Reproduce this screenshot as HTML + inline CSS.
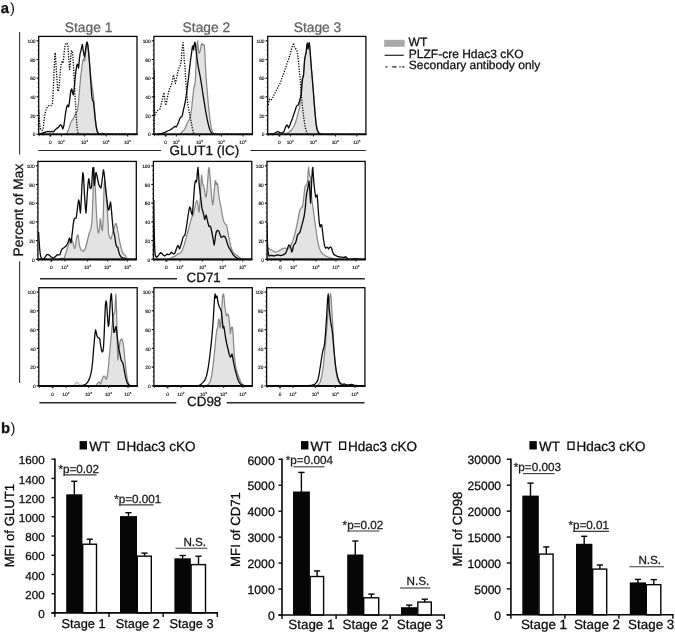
<!DOCTYPE html>
<html>
<head>
<meta charset="utf-8">
<title>Figure</title>
<style>
html, body { margin: 0; padding: 0; background: #ffffff; }
body { width: 675px; height: 634px; overflow: hidden; font-family: "Liberation Sans", sans-serif; }
svg { display: block; font-family: "Liberation Sans", sans-serif; will-change: transform; text-rendering: geometricPrecision; filter: blur(0.3px); }
</style>
</head>
<body>
<svg width="675" height="634" viewBox="0 0 675 634">
<rect x="0" y="0" width="675" height="634" fill="#ffffff"/>
<g id="hist">
<clipPath id="c0"><rect x="38.7" y="35.4" width="98.3" height="99.4"/></clipPath>
<g clip-path="url(#c0)">
<path d="M65.6 134.4 L67.2 132.6 L68.6 129.4 L70.0 125.0 L71.2 121.4 L72.4 119.8 L73.6 118.2 L74.8 115.4 L76.0 113.0 L77.4 111.0 L78.4 103.4 L79.4 91.0 L80.6 77.4 L81.6 69.0 L82.8 60.6 L83.8 58.6 L84.6 61.0 L85.6 53.0 L86.4 46.0 L87.2 42.6 L88.0 45.0 L89.0 55.0 L90.0 68.0 L91.2 80.0 L92.4 88.6 L93.4 95.0 L94.4 107.0 L95.6 120.6 L97.0 130.6 L98.6 133.6 L100.6 133.8 L102.4 133.0 L104.0 133.8 L105.6 134.4 Z" fill="#e3e3e3" stroke="none"/>
<path d="M65.6 134.4 L67.2 132.6 L68.6 129.4 L70.0 125.0 L71.2 121.4 L72.4 119.8 L73.6 118.2 L74.8 115.4 L76.0 113.0 L77.4 111.0 L78.4 103.4 L79.4 91.0 L80.6 77.4 L81.6 69.0 L82.8 60.6 L83.8 58.6 L84.6 61.0 L85.6 53.0 L86.4 46.0 L87.2 42.6 L88.0 45.0 L89.0 55.0 L90.0 68.0 L91.2 80.0 L92.4 88.6 L93.4 95.0 L94.4 107.0 L95.6 120.6 L97.0 130.6 L98.6 133.6 L100.6 133.8 L102.4 133.0 L104.0 133.8 L105.6 134.4" fill="none" stroke="#888888" stroke-width="1.25" stroke-linejoin="round"/>
<path d="M38.6 110.0 L39.0 113.0 L39.4 119.0 L39.8 125.0 L40.6 129.0 L42.0 130.4 L43.2 129.0 L43.8 123.0 L44.6 116.0 L45.6 111.0 L46.8 108.0 L48.2 106.0 L49.8 105.2 L51.4 105.6 L52.4 104.2 L53.0 95.0 L53.6 83.0 L54.2 69.0 L54.8 57.0 L55.2 52.6 L55.8 61.0 L56.4 71.0 L57.0 80.0 L57.6 89.0 L58.2 91.4 L58.8 89.0 L59.4 83.0 L60.0 75.0 L60.6 68.0 L61.2 64.0 L62.0 62.0 L63.0 63.0 L63.6 59.0 L64.2 52.0 L65.0 45.6 L66.0 43.0 L67.0 43.4 L67.8 46.0 L68.4 53.0 L69.0 62.0 L69.6 69.4 L70.2 65.0 L70.8 57.0 L71.4 51.0 L72.2 50.6 L72.8 55.0 L73.4 64.0 L74.0 75.0 L74.6 87.0 L75.2 99.0 L75.8 109.0 L76.4 119.0 L77.0 127.0 L77.8 132.0 L78.8 134.4" fill="none" stroke="#0a0a0a" stroke-width="1.35" stroke-dasharray="1.25 1.35" stroke-linejoin="round"/>
<path d="M38.6 134.4 L41.0 133.6 L43.6 132.6 L46.0 132.0 L48.0 131.4 L50.0 131.8 L52.0 131.4 L53.6 131.8 L55.2 129.8 L56.8 128.4 L58.4 127.4 L59.6 125.6 L60.8 124.8 L61.8 126.0 L62.8 129.0 L63.8 126.0 L64.8 119.0 L65.8 111.4 L66.8 106.6 L67.6 105.0 L68.6 107.0 L69.4 102.6 L70.2 95.4 L71.0 90.0 L71.8 89.0 L72.6 93.0 L73.4 95.0 L74.2 88.6 L75.2 77.4 L76.2 69.0 L77.2 64.2 L78.0 65.0 L78.6 68.0 L79.4 59.0 L80.2 53.0 L81.0 50.6 L81.8 46.0 L82.4 44.6 L83.2 50.6 L84.0 55.0 L84.6 57.0 L85.4 50.6 L86.2 45.0 L87.0 41.8 L87.8 45.0 L88.6 53.0 L89.4 62.0 L90.2 73.0 L91.0 85.0 L91.8 96.0 L92.6 100.6 L93.4 101.4 L94.2 109.0 L95.2 119.0 L96.2 127.0 L97.2 131.4 L98.4 133.6 L100.0 134.4 L137.0 134.4" fill="none" stroke="#0a0a0a" stroke-width="1.3" stroke-linejoin="round"/>
</g>
<rect x="38.7" y="36.4" width="98.3" height="97.8" fill="none" stroke="#0a0a0a" stroke-width="1.3"/>
<line x1="38.1" y1="134.40" x2="137.6" y2="134.40" stroke="#0a0a0a" stroke-width="1.9"/>
<line x1="36.6" y1="40.8" x2="38.7" y2="40.8" stroke="#111" stroke-width="1.2"/>
<text font-family="Liberation Sans, sans-serif" x="35.5" y="43.0" font-size="4.8" text-anchor="end" fill="#000" stroke="#000" stroke-width="0.1">100</text>
<line x1="36.6" y1="59.5" x2="38.7" y2="59.5" stroke="#111" stroke-width="1.2"/>
<text font-family="Liberation Sans, sans-serif" x="35.5" y="61.7" font-size="4.8" text-anchor="end" fill="#000" stroke="#000" stroke-width="0.1">80</text>
<line x1="36.6" y1="78.2" x2="38.7" y2="78.2" stroke="#111" stroke-width="1.2"/>
<text font-family="Liberation Sans, sans-serif" x="35.5" y="80.4" font-size="4.8" text-anchor="end" fill="#000" stroke="#000" stroke-width="0.1">60</text>
<line x1="36.6" y1="96.8" x2="38.7" y2="96.8" stroke="#111" stroke-width="1.2"/>
<text font-family="Liberation Sans, sans-serif" x="35.5" y="99.0" font-size="4.8" text-anchor="end" fill="#000" stroke="#000" stroke-width="0.1">40</text>
<line x1="36.6" y1="115.5" x2="38.7" y2="115.5" stroke="#111" stroke-width="1.2"/>
<text font-family="Liberation Sans, sans-serif" x="35.5" y="117.7" font-size="4.8" text-anchor="end" fill="#000" stroke="#000" stroke-width="0.1">20</text>
<line x1="36.6" y1="134.2" x2="38.7" y2="134.2" stroke="#111" stroke-width="1.2"/>
<text font-family="Liberation Sans, sans-serif" x="35.5" y="136.4" font-size="4.8" text-anchor="end" fill="#000" stroke="#000" stroke-width="0.1">0</text>
<line x1="37.4" y1="45.47" x2="38.7" y2="45.47" stroke="#222" stroke-width="0.6"/>
<line x1="37.4" y1="50.14" x2="38.7" y2="50.14" stroke="#222" stroke-width="0.6"/>
<line x1="37.4" y1="54.81" x2="38.7" y2="54.81" stroke="#222" stroke-width="0.6"/>
<line x1="37.4" y1="64.15" x2="38.7" y2="64.15" stroke="#222" stroke-width="0.6"/>
<line x1="37.4" y1="68.82" x2="38.7" y2="68.82" stroke="#222" stroke-width="0.6"/>
<line x1="37.4" y1="73.49" x2="38.7" y2="73.49" stroke="#222" stroke-width="0.6"/>
<line x1="37.4" y1="82.83" x2="38.7" y2="82.83" stroke="#222" stroke-width="0.6"/>
<line x1="37.4" y1="87.50" x2="38.7" y2="87.50" stroke="#222" stroke-width="0.6"/>
<line x1="37.4" y1="92.17" x2="38.7" y2="92.17" stroke="#222" stroke-width="0.6"/>
<line x1="37.4" y1="101.51" x2="38.7" y2="101.51" stroke="#222" stroke-width="0.6"/>
<line x1="37.4" y1="106.18" x2="38.7" y2="106.18" stroke="#222" stroke-width="0.6"/>
<line x1="37.4" y1="110.85" x2="38.7" y2="110.85" stroke="#222" stroke-width="0.6"/>
<line x1="37.4" y1="120.19" x2="38.7" y2="120.19" stroke="#222" stroke-width="0.6"/>
<line x1="37.4" y1="124.86" x2="38.7" y2="124.86" stroke="#222" stroke-width="0.6"/>
<line x1="37.4" y1="129.53" x2="38.7" y2="129.53" stroke="#222" stroke-width="0.6"/>
<line x1="50.4" y1="134.2" x2="50.4" y2="136.6" stroke="#222" stroke-width="1.9"/>
<line x1="61.4" y1="134.2" x2="61.4" y2="136.4" stroke="#222" stroke-width="1.1"/>
<line x1="84.6" y1="134.2" x2="84.6" y2="136.4" stroke="#222" stroke-width="1.1"/>
<line x1="106.2" y1="134.2" x2="106.2" y2="136.4" stroke="#222" stroke-width="1.1"/>
<line x1="127.6" y1="134.2" x2="127.6" y2="136.4" stroke="#222" stroke-width="1.1"/>
<line x1="68.4" y1="134.2" x2="68.4" y2="135.4" stroke="#222" stroke-width="0.5"/>
<line x1="72.5" y1="134.2" x2="72.5" y2="135.4" stroke="#222" stroke-width="0.5"/>
<line x1="75.4" y1="134.2" x2="75.4" y2="135.4" stroke="#222" stroke-width="0.5"/>
<line x1="77.6" y1="134.2" x2="77.6" y2="135.4" stroke="#222" stroke-width="0.5"/>
<line x1="79.5" y1="134.2" x2="79.5" y2="135.4" stroke="#222" stroke-width="0.5"/>
<line x1="81.0" y1="134.2" x2="81.0" y2="135.4" stroke="#222" stroke-width="0.5"/>
<line x1="82.4" y1="134.2" x2="82.4" y2="135.4" stroke="#222" stroke-width="0.5"/>
<line x1="83.5" y1="134.2" x2="83.5" y2="135.4" stroke="#222" stroke-width="0.5"/>
<line x1="91.1" y1="134.2" x2="91.1" y2="135.4" stroke="#222" stroke-width="0.5"/>
<line x1="94.9" y1="134.2" x2="94.9" y2="135.4" stroke="#222" stroke-width="0.5"/>
<line x1="97.6" y1="134.2" x2="97.6" y2="135.4" stroke="#222" stroke-width="0.5"/>
<line x1="99.7" y1="134.2" x2="99.7" y2="135.4" stroke="#222" stroke-width="0.5"/>
<line x1="101.4" y1="134.2" x2="101.4" y2="135.4" stroke="#222" stroke-width="0.5"/>
<line x1="102.9" y1="134.2" x2="102.9" y2="135.4" stroke="#222" stroke-width="0.5"/>
<line x1="104.1" y1="134.2" x2="104.1" y2="135.4" stroke="#222" stroke-width="0.5"/>
<line x1="105.2" y1="134.2" x2="105.2" y2="135.4" stroke="#222" stroke-width="0.5"/>
<line x1="112.6" y1="134.2" x2="112.6" y2="135.4" stroke="#222" stroke-width="0.5"/>
<line x1="116.4" y1="134.2" x2="116.4" y2="135.4" stroke="#222" stroke-width="0.5"/>
<line x1="119.1" y1="134.2" x2="119.1" y2="135.4" stroke="#222" stroke-width="0.5"/>
<line x1="121.2" y1="134.2" x2="121.2" y2="135.4" stroke="#222" stroke-width="0.5"/>
<line x1="122.9" y1="134.2" x2="122.9" y2="135.4" stroke="#222" stroke-width="0.5"/>
<line x1="124.3" y1="134.2" x2="124.3" y2="135.4" stroke="#222" stroke-width="0.5"/>
<line x1="125.5" y1="134.2" x2="125.5" y2="135.4" stroke="#222" stroke-width="0.5"/>
<line x1="126.6" y1="134.2" x2="126.6" y2="135.4" stroke="#222" stroke-width="0.5"/>
<line x1="134.0" y1="134.2" x2="134.0" y2="135.4" stroke="#222" stroke-width="0.5"/>
<line x1="39.3" y1="134.2" x2="39.3" y2="136.2" stroke="#222" stroke-width="0.9"/>
<line x1="43.3" y1="134.2" x2="43.3" y2="135.8" stroke="#222" stroke-width="0.7"/>
<line x1="56.2" y1="134.2" x2="56.2" y2="135.6" stroke="#222" stroke-width="0.6"/>
<text font-family="Liberation Sans, sans-serif" x="50.4" y="144.0" font-size="4.8" text-anchor="middle" fill="#000" stroke="#000" stroke-width="0.1">0</text>
<text font-family="Liberation Sans, sans-serif" x="61.2" y="144.0" font-size="4.8" text-anchor="middle" fill="#000" stroke="#000" stroke-width="0.1">10<tspan font-size="3.0" dy="-1.7">2</tspan></text>
<text font-family="Liberation Sans, sans-serif" x="84.4" y="144.0" font-size="4.8" text-anchor="middle" fill="#000" stroke="#000" stroke-width="0.1">10<tspan font-size="3.0" dy="-1.7">3</tspan></text>
<text font-family="Liberation Sans, sans-serif" x="106.0" y="144.0" font-size="4.8" text-anchor="middle" fill="#000" stroke="#000" stroke-width="0.1">10<tspan font-size="3.0" dy="-1.7">4</tspan></text>
<text font-family="Liberation Sans, sans-serif" x="127.4" y="144.0" font-size="4.8" text-anchor="middle" fill="#000" stroke="#000" stroke-width="0.1">10<tspan font-size="3.0" dy="-1.7">5</tspan></text>
<clipPath id="c1"><rect x="153.9" y="35.4" width="98.5" height="99.4"/></clipPath>
<g clip-path="url(#c1)">
<path d="M179.0 134.4 L181.0 133.0 L183.0 131.0 L184.6 129.4 L186.0 126.0 L187.2 123.0 L188.4 121.0 L189.6 119.0 L190.8 114.0 L191.8 107.0 L192.8 97.0 L193.8 88.0 L194.6 85.0 L195.2 83.0 L195.8 70.0 L196.4 57.0 L197.0 46.0 L197.6 41.0 L198.2 47.0 L198.8 53.4 L199.6 52.6 L200.4 50.0 L201.2 45.0 L201.8 43.4 L202.6 45.0 L203.4 44.6 L204.2 45.0 L204.8 51.0 L205.4 65.0 L206.2 79.0 L207.2 91.0 L208.4 105.0 L209.8 118.0 L211.2 127.4 L212.6 132.4 L214.4 134.0 L216.4 134.4 Z" fill="#e3e3e3" stroke="none"/>
<path d="M179.0 134.4 L181.0 133.0 L183.0 131.0 L184.6 129.4 L186.0 126.0 L187.2 123.0 L188.4 121.0 L189.6 119.0 L190.8 114.0 L191.8 107.0 L192.8 97.0 L193.8 88.0 L194.6 85.0 L195.2 83.0 L195.8 70.0 L196.4 57.0 L197.0 46.0 L197.6 41.0 L198.2 47.0 L198.8 53.4 L199.6 52.6 L200.4 50.0 L201.2 45.0 L201.8 43.4 L202.6 45.0 L203.4 44.6 L204.2 45.0 L204.8 51.0 L205.4 65.0 L206.2 79.0 L207.2 91.0 L208.4 105.0 L209.8 118.0 L211.2 127.4 L212.6 132.4 L214.4 134.0 L216.4 134.4" fill="none" stroke="#888888" stroke-width="1.25" stroke-linejoin="round"/>
<path d="M154.2 134.4 L154.2 71.0 L154.4 116.0 L155.6 113.0 L157.0 111.0 L158.6 109.8 L160.0 109.0 L161.0 105.0 L162.0 100.6 L163.0 96.0 L164.0 92.6 L164.8 99.0 L165.6 105.4 L166.6 102.0 L167.6 96.6 L168.6 92.0 L169.6 88.6 L170.8 86.0 L172.0 83.0 L172.8 78.0 L173.6 75.0 L174.4 79.0 L175.4 83.4 L176.4 79.0 L177.4 74.0 L178.4 69.4 L179.4 67.0 L180.4 65.4 L181.2 61.0 L181.8 53.0 L182.4 46.6 L183.0 42.6 L183.6 49.0 L184.2 60.0 L185.0 67.4 L185.8 81.0 L186.8 93.0 L187.8 104.0 L189.0 111.0 L190.2 116.6 L191.4 123.0 L192.6 129.4 L194.0 134.4" fill="none" stroke="#0a0a0a" stroke-width="1.35" stroke-dasharray="1.25 1.35" stroke-linejoin="round"/>
<path d="M154.0 134.4 L158.0 134.2 L162.0 133.4 L165.0 132.4 L167.6 131.0 L170.0 130.0 L172.0 128.6 L173.6 127.4 L175.0 126.2 L176.2 127.0 L177.4 125.0 L178.6 122.0 L179.8 118.6 L181.0 117.0 L182.0 116.6 L183.0 112.0 L184.2 106.6 L185.4 101.0 L186.6 93.0 L187.6 85.0 L188.6 77.4 L189.6 68.0 L190.6 60.0 L191.6 52.6 L192.4 46.6 L193.0 45.8 L193.6 50.0 L194.2 45.0 L194.8 42.2 L195.4 44.0 L196.0 50.0 L196.8 56.6 L197.8 64.0 L199.0 70.6 L200.2 76.6 L201.6 85.0 L203.0 94.6 L204.4 103.4 L205.8 112.0 L207.2 119.4 L208.6 125.6 L210.0 130.2 L211.6 133.0 L213.2 134.2 L215.0 134.4 L252.4 134.4" fill="none" stroke="#0a0a0a" stroke-width="1.3" stroke-linejoin="round"/>
</g>
<rect x="153.9" y="36.4" width="98.5" height="97.8" fill="none" stroke="#0a0a0a" stroke-width="1.3"/>
<line x1="153.3" y1="134.40" x2="253.0" y2="134.40" stroke="#0a0a0a" stroke-width="1.9"/>
<line x1="151.8" y1="40.8" x2="153.9" y2="40.8" stroke="#111" stroke-width="1.2"/>
<text font-family="Liberation Sans, sans-serif" x="150.7" y="43.0" font-size="4.8" text-anchor="end" fill="#000" stroke="#000" stroke-width="0.1">100</text>
<line x1="151.8" y1="59.5" x2="153.9" y2="59.5" stroke="#111" stroke-width="1.2"/>
<text font-family="Liberation Sans, sans-serif" x="150.7" y="61.7" font-size="4.8" text-anchor="end" fill="#000" stroke="#000" stroke-width="0.1">80</text>
<line x1="151.8" y1="78.2" x2="153.9" y2="78.2" stroke="#111" stroke-width="1.2"/>
<text font-family="Liberation Sans, sans-serif" x="150.7" y="80.4" font-size="4.8" text-anchor="end" fill="#000" stroke="#000" stroke-width="0.1">60</text>
<line x1="151.8" y1="96.8" x2="153.9" y2="96.8" stroke="#111" stroke-width="1.2"/>
<text font-family="Liberation Sans, sans-serif" x="150.7" y="99.0" font-size="4.8" text-anchor="end" fill="#000" stroke="#000" stroke-width="0.1">40</text>
<line x1="151.8" y1="115.5" x2="153.9" y2="115.5" stroke="#111" stroke-width="1.2"/>
<text font-family="Liberation Sans, sans-serif" x="150.7" y="117.7" font-size="4.8" text-anchor="end" fill="#000" stroke="#000" stroke-width="0.1">20</text>
<line x1="151.8" y1="134.2" x2="153.9" y2="134.2" stroke="#111" stroke-width="1.2"/>
<text font-family="Liberation Sans, sans-serif" x="150.7" y="136.4" font-size="4.8" text-anchor="end" fill="#000" stroke="#000" stroke-width="0.1">0</text>
<line x1="152.6" y1="45.47" x2="153.9" y2="45.47" stroke="#222" stroke-width="0.6"/>
<line x1="152.6" y1="50.14" x2="153.9" y2="50.14" stroke="#222" stroke-width="0.6"/>
<line x1="152.6" y1="54.81" x2="153.9" y2="54.81" stroke="#222" stroke-width="0.6"/>
<line x1="152.6" y1="64.15" x2="153.9" y2="64.15" stroke="#222" stroke-width="0.6"/>
<line x1="152.6" y1="68.82" x2="153.9" y2="68.82" stroke="#222" stroke-width="0.6"/>
<line x1="152.6" y1="73.49" x2="153.9" y2="73.49" stroke="#222" stroke-width="0.6"/>
<line x1="152.6" y1="82.83" x2="153.9" y2="82.83" stroke="#222" stroke-width="0.6"/>
<line x1="152.6" y1="87.50" x2="153.9" y2="87.50" stroke="#222" stroke-width="0.6"/>
<line x1="152.6" y1="92.17" x2="153.9" y2="92.17" stroke="#222" stroke-width="0.6"/>
<line x1="152.6" y1="101.51" x2="153.9" y2="101.51" stroke="#222" stroke-width="0.6"/>
<line x1="152.6" y1="106.18" x2="153.9" y2="106.18" stroke="#222" stroke-width="0.6"/>
<line x1="152.6" y1="110.85" x2="153.9" y2="110.85" stroke="#222" stroke-width="0.6"/>
<line x1="152.6" y1="120.19" x2="153.9" y2="120.19" stroke="#222" stroke-width="0.6"/>
<line x1="152.6" y1="124.86" x2="153.9" y2="124.86" stroke="#222" stroke-width="0.6"/>
<line x1="152.6" y1="129.53" x2="153.9" y2="129.53" stroke="#222" stroke-width="0.6"/>
<line x1="165.6" y1="134.2" x2="165.6" y2="136.6" stroke="#222" stroke-width="1.9"/>
<line x1="176.4" y1="134.2" x2="176.4" y2="136.4" stroke="#222" stroke-width="1.1"/>
<line x1="199.6" y1="134.2" x2="199.6" y2="136.4" stroke="#222" stroke-width="1.1"/>
<line x1="221.4" y1="134.2" x2="221.4" y2="136.4" stroke="#222" stroke-width="1.1"/>
<line x1="243.0" y1="134.2" x2="243.0" y2="136.4" stroke="#222" stroke-width="1.1"/>
<line x1="183.4" y1="134.2" x2="183.4" y2="135.4" stroke="#222" stroke-width="0.5"/>
<line x1="187.5" y1="134.2" x2="187.5" y2="135.4" stroke="#222" stroke-width="0.5"/>
<line x1="190.4" y1="134.2" x2="190.4" y2="135.4" stroke="#222" stroke-width="0.5"/>
<line x1="192.6" y1="134.2" x2="192.6" y2="135.4" stroke="#222" stroke-width="0.5"/>
<line x1="194.5" y1="134.2" x2="194.5" y2="135.4" stroke="#222" stroke-width="0.5"/>
<line x1="196.0" y1="134.2" x2="196.0" y2="135.4" stroke="#222" stroke-width="0.5"/>
<line x1="197.4" y1="134.2" x2="197.4" y2="135.4" stroke="#222" stroke-width="0.5"/>
<line x1="198.5" y1="134.2" x2="198.5" y2="135.4" stroke="#222" stroke-width="0.5"/>
<line x1="206.2" y1="134.2" x2="206.2" y2="135.4" stroke="#222" stroke-width="0.5"/>
<line x1="210.0" y1="134.2" x2="210.0" y2="135.4" stroke="#222" stroke-width="0.5"/>
<line x1="212.7" y1="134.2" x2="212.7" y2="135.4" stroke="#222" stroke-width="0.5"/>
<line x1="214.8" y1="134.2" x2="214.8" y2="135.4" stroke="#222" stroke-width="0.5"/>
<line x1="216.6" y1="134.2" x2="216.6" y2="135.4" stroke="#222" stroke-width="0.5"/>
<line x1="218.0" y1="134.2" x2="218.0" y2="135.4" stroke="#222" stroke-width="0.5"/>
<line x1="219.3" y1="134.2" x2="219.3" y2="135.4" stroke="#222" stroke-width="0.5"/>
<line x1="220.4" y1="134.2" x2="220.4" y2="135.4" stroke="#222" stroke-width="0.5"/>
<line x1="227.9" y1="134.2" x2="227.9" y2="135.4" stroke="#222" stroke-width="0.5"/>
<line x1="231.7" y1="134.2" x2="231.7" y2="135.4" stroke="#222" stroke-width="0.5"/>
<line x1="234.4" y1="134.2" x2="234.4" y2="135.4" stroke="#222" stroke-width="0.5"/>
<line x1="236.5" y1="134.2" x2="236.5" y2="135.4" stroke="#222" stroke-width="0.5"/>
<line x1="238.2" y1="134.2" x2="238.2" y2="135.4" stroke="#222" stroke-width="0.5"/>
<line x1="239.7" y1="134.2" x2="239.7" y2="135.4" stroke="#222" stroke-width="0.5"/>
<line x1="240.9" y1="134.2" x2="240.9" y2="135.4" stroke="#222" stroke-width="0.5"/>
<line x1="242.0" y1="134.2" x2="242.0" y2="135.4" stroke="#222" stroke-width="0.5"/>
<line x1="249.5" y1="134.2" x2="249.5" y2="135.4" stroke="#222" stroke-width="0.5"/>
<line x1="154.5" y1="134.2" x2="154.5" y2="136.2" stroke="#222" stroke-width="0.9"/>
<line x1="158.5" y1="134.2" x2="158.5" y2="135.8" stroke="#222" stroke-width="0.7"/>
<line x1="171.3" y1="134.2" x2="171.3" y2="135.6" stroke="#222" stroke-width="0.6"/>
<text font-family="Liberation Sans, sans-serif" x="165.6" y="144.0" font-size="4.8" text-anchor="middle" fill="#000" stroke="#000" stroke-width="0.1">0</text>
<text font-family="Liberation Sans, sans-serif" x="176.2" y="144.0" font-size="4.8" text-anchor="middle" fill="#000" stroke="#000" stroke-width="0.1">10<tspan font-size="3.0" dy="-1.7">2</tspan></text>
<text font-family="Liberation Sans, sans-serif" x="199.4" y="144.0" font-size="4.8" text-anchor="middle" fill="#000" stroke="#000" stroke-width="0.1">10<tspan font-size="3.0" dy="-1.7">3</tspan></text>
<text font-family="Liberation Sans, sans-serif" x="221.2" y="144.0" font-size="4.8" text-anchor="middle" fill="#000" stroke="#000" stroke-width="0.1">10<tspan font-size="3.0" dy="-1.7">4</tspan></text>
<text font-family="Liberation Sans, sans-serif" x="242.8" y="144.0" font-size="4.8" text-anchor="middle" fill="#000" stroke="#000" stroke-width="0.1">10<tspan font-size="3.0" dy="-1.7">5</tspan></text>
<clipPath id="c2"><rect x="267.7" y="35.4" width="98.2" height="99.4"/></clipPath>
<g clip-path="url(#c2)">
<path d="M284.0 134.4 L287.0 133.2 L289.4 132.0 L291.6 129.8 L293.6 127.0 L295.4 123.0 L297.0 117.4 L298.2 112.6 L299.4 109.0 L300.4 100.0 L301.2 89.0 L302.0 79.4 L302.8 76.6 L303.4 76.0 L304.0 68.0 L304.6 61.0 L305.4 56.0 L306.2 52.0 L307.0 46.6 L307.8 44.4 L308.6 44.0 L309.4 47.0 L310.2 53.0 L311.2 66.0 L312.2 78.0 L313.2 89.0 L314.2 102.0 L315.2 114.0 L316.2 124.0 L317.4 130.2 L319.0 133.4 L321.0 134.4 Z" fill="#e3e3e3" stroke="none"/>
<path d="M284.0 134.4 L287.0 133.2 L289.4 132.0 L291.6 129.8 L293.6 127.0 L295.4 123.0 L297.0 117.4 L298.2 112.6 L299.4 109.0 L300.4 100.0 L301.2 89.0 L302.0 79.4 L302.8 76.6 L303.4 76.0 L304.0 68.0 L304.6 61.0 L305.4 56.0 L306.2 52.0 L307.0 46.6 L307.8 44.4 L308.6 44.0 L309.4 47.0 L310.2 53.0 L311.2 66.0 L312.2 78.0 L313.2 89.0 L314.2 102.0 L315.2 114.0 L316.2 124.0 L317.4 130.2 L319.0 133.4 L321.0 134.4" fill="none" stroke="#888888" stroke-width="1.25" stroke-linejoin="round"/>
<path d="M268.2 105.0 L268.8 102.0 L269.4 99.4 L270.4 100.4 L271.6 99.4 L273.0 97.0 L274.6 93.8 L276.2 90.6 L277.8 87.4 L279.2 84.6 L280.4 83.0 L281.2 80.0 L282.0 77.4 L283.0 75.0 L284.2 72.0 L285.4 68.4 L286.6 65.0 L287.8 61.4 L289.0 58.0 L290.2 54.0 L291.2 50.0 L292.2 46.6 L293.0 44.6 L293.6 43.0 L294.2 46.0 L295.0 48.6 L296.0 49.0 L296.8 50.6 L297.6 54.0 L298.4 61.0 L299.2 69.4 L300.0 78.0 L300.8 88.0 L301.6 98.0 L302.6 108.0 L303.6 116.6 L304.6 123.4 L305.8 129.4 L307.0 133.0 L308.4 134.4" fill="none" stroke="#0a0a0a" stroke-width="1.35" stroke-dasharray="1.25 1.35" stroke-linejoin="round"/>
<path d="M268.0 134.4 L272.0 134.0 L275.0 133.0 L276.6 132.0 L278.0 131.6 L279.4 132.4 L281.0 133.0 L282.6 132.6 L284.0 131.6 L285.0 128.6 L286.0 126.0 L287.0 125.0 L287.8 126.0 L288.6 128.0 L289.6 126.0 L290.8 122.6 L292.2 119.0 L293.6 115.0 L295.0 111.0 L296.2 107.0 L297.2 105.4 L298.2 105.0 L299.2 102.0 L300.2 98.6 L301.2 95.0 L302.0 85.0 L302.6 78.6 L303.4 76.6 L304.0 69.0 L304.6 59.4 L305.4 55.4 L306.2 52.0 L306.8 45.0 L307.4 43.0 L308.0 49.0 L308.6 46.0 L309.2 42.6 L309.8 46.0 L310.4 55.0 L311.2 66.0 L312.2 77.4 L313.2 90.0 L314.2 103.0 L315.2 115.0 L316.2 125.0 L317.2 130.0 L318.4 132.6 L320.0 134.0 L322.6 134.4 L366.4 134.4" fill="none" stroke="#0a0a0a" stroke-width="1.3" stroke-linejoin="round"/>
</g>
<rect x="267.7" y="36.4" width="98.2" height="97.8" fill="none" stroke="#0a0a0a" stroke-width="1.3"/>
<line x1="267.1" y1="134.40" x2="366.5" y2="134.40" stroke="#0a0a0a" stroke-width="1.9"/>
<line x1="265.6" y1="40.8" x2="267.7" y2="40.8" stroke="#111" stroke-width="1.2"/>
<text font-family="Liberation Sans, sans-serif" x="264.5" y="43.0" font-size="4.8" text-anchor="end" fill="#000" stroke="#000" stroke-width="0.1">100</text>
<line x1="265.6" y1="59.5" x2="267.7" y2="59.5" stroke="#111" stroke-width="1.2"/>
<text font-family="Liberation Sans, sans-serif" x="264.5" y="61.7" font-size="4.8" text-anchor="end" fill="#000" stroke="#000" stroke-width="0.1">80</text>
<line x1="265.6" y1="78.2" x2="267.7" y2="78.2" stroke="#111" stroke-width="1.2"/>
<text font-family="Liberation Sans, sans-serif" x="264.5" y="80.4" font-size="4.8" text-anchor="end" fill="#000" stroke="#000" stroke-width="0.1">60</text>
<line x1="265.6" y1="96.8" x2="267.7" y2="96.8" stroke="#111" stroke-width="1.2"/>
<text font-family="Liberation Sans, sans-serif" x="264.5" y="99.0" font-size="4.8" text-anchor="end" fill="#000" stroke="#000" stroke-width="0.1">40</text>
<line x1="265.6" y1="115.5" x2="267.7" y2="115.5" stroke="#111" stroke-width="1.2"/>
<text font-family="Liberation Sans, sans-serif" x="264.5" y="117.7" font-size="4.8" text-anchor="end" fill="#000" stroke="#000" stroke-width="0.1">20</text>
<line x1="265.6" y1="134.2" x2="267.7" y2="134.2" stroke="#111" stroke-width="1.2"/>
<text font-family="Liberation Sans, sans-serif" x="264.5" y="136.4" font-size="4.8" text-anchor="end" fill="#000" stroke="#000" stroke-width="0.1">0</text>
<line x1="266.4" y1="45.47" x2="267.7" y2="45.47" stroke="#222" stroke-width="0.6"/>
<line x1="266.4" y1="50.14" x2="267.7" y2="50.14" stroke="#222" stroke-width="0.6"/>
<line x1="266.4" y1="54.81" x2="267.7" y2="54.81" stroke="#222" stroke-width="0.6"/>
<line x1="266.4" y1="64.15" x2="267.7" y2="64.15" stroke="#222" stroke-width="0.6"/>
<line x1="266.4" y1="68.82" x2="267.7" y2="68.82" stroke="#222" stroke-width="0.6"/>
<line x1="266.4" y1="73.49" x2="267.7" y2="73.49" stroke="#222" stroke-width="0.6"/>
<line x1="266.4" y1="82.83" x2="267.7" y2="82.83" stroke="#222" stroke-width="0.6"/>
<line x1="266.4" y1="87.50" x2="267.7" y2="87.50" stroke="#222" stroke-width="0.6"/>
<line x1="266.4" y1="92.17" x2="267.7" y2="92.17" stroke="#222" stroke-width="0.6"/>
<line x1="266.4" y1="101.51" x2="267.7" y2="101.51" stroke="#222" stroke-width="0.6"/>
<line x1="266.4" y1="106.18" x2="267.7" y2="106.18" stroke="#222" stroke-width="0.6"/>
<line x1="266.4" y1="110.85" x2="267.7" y2="110.85" stroke="#222" stroke-width="0.6"/>
<line x1="266.4" y1="120.19" x2="267.7" y2="120.19" stroke="#222" stroke-width="0.6"/>
<line x1="266.4" y1="124.86" x2="267.7" y2="124.86" stroke="#222" stroke-width="0.6"/>
<line x1="266.4" y1="129.53" x2="267.7" y2="129.53" stroke="#222" stroke-width="0.6"/>
<line x1="279.4" y1="134.2" x2="279.4" y2="136.6" stroke="#222" stroke-width="1.9"/>
<line x1="290.4" y1="134.2" x2="290.4" y2="136.4" stroke="#222" stroke-width="1.1"/>
<line x1="313.4" y1="134.2" x2="313.4" y2="136.4" stroke="#222" stroke-width="1.1"/>
<line x1="335.4" y1="134.2" x2="335.4" y2="136.4" stroke="#222" stroke-width="1.1"/>
<line x1="357.0" y1="134.2" x2="357.0" y2="136.4" stroke="#222" stroke-width="1.1"/>
<line x1="297.3" y1="134.2" x2="297.3" y2="135.4" stroke="#222" stroke-width="0.5"/>
<line x1="301.4" y1="134.2" x2="301.4" y2="135.4" stroke="#222" stroke-width="0.5"/>
<line x1="304.2" y1="134.2" x2="304.2" y2="135.4" stroke="#222" stroke-width="0.5"/>
<line x1="306.5" y1="134.2" x2="306.5" y2="135.4" stroke="#222" stroke-width="0.5"/>
<line x1="308.3" y1="134.2" x2="308.3" y2="135.4" stroke="#222" stroke-width="0.5"/>
<line x1="309.8" y1="134.2" x2="309.8" y2="135.4" stroke="#222" stroke-width="0.5"/>
<line x1="311.2" y1="134.2" x2="311.2" y2="135.4" stroke="#222" stroke-width="0.5"/>
<line x1="312.3" y1="134.2" x2="312.3" y2="135.4" stroke="#222" stroke-width="0.5"/>
<line x1="320.0" y1="134.2" x2="320.0" y2="135.4" stroke="#222" stroke-width="0.5"/>
<line x1="323.9" y1="134.2" x2="323.9" y2="135.4" stroke="#222" stroke-width="0.5"/>
<line x1="326.6" y1="134.2" x2="326.6" y2="135.4" stroke="#222" stroke-width="0.5"/>
<line x1="328.8" y1="134.2" x2="328.8" y2="135.4" stroke="#222" stroke-width="0.5"/>
<line x1="330.5" y1="134.2" x2="330.5" y2="135.4" stroke="#222" stroke-width="0.5"/>
<line x1="332.0" y1="134.2" x2="332.0" y2="135.4" stroke="#222" stroke-width="0.5"/>
<line x1="333.3" y1="134.2" x2="333.3" y2="135.4" stroke="#222" stroke-width="0.5"/>
<line x1="334.4" y1="134.2" x2="334.4" y2="135.4" stroke="#222" stroke-width="0.5"/>
<line x1="341.9" y1="134.2" x2="341.9" y2="135.4" stroke="#222" stroke-width="0.5"/>
<line x1="345.7" y1="134.2" x2="345.7" y2="135.4" stroke="#222" stroke-width="0.5"/>
<line x1="348.4" y1="134.2" x2="348.4" y2="135.4" stroke="#222" stroke-width="0.5"/>
<line x1="350.5" y1="134.2" x2="350.5" y2="135.4" stroke="#222" stroke-width="0.5"/>
<line x1="352.2" y1="134.2" x2="352.2" y2="135.4" stroke="#222" stroke-width="0.5"/>
<line x1="353.7" y1="134.2" x2="353.7" y2="135.4" stroke="#222" stroke-width="0.5"/>
<line x1="354.9" y1="134.2" x2="354.9" y2="135.4" stroke="#222" stroke-width="0.5"/>
<line x1="356.0" y1="134.2" x2="356.0" y2="135.4" stroke="#222" stroke-width="0.5"/>
<line x1="363.5" y1="134.2" x2="363.5" y2="135.4" stroke="#222" stroke-width="0.5"/>
<line x1="268.3" y1="134.2" x2="268.3" y2="136.2" stroke="#222" stroke-width="0.9"/>
<line x1="272.3" y1="134.2" x2="272.3" y2="135.8" stroke="#222" stroke-width="0.7"/>
<line x1="285.2" y1="134.2" x2="285.2" y2="135.6" stroke="#222" stroke-width="0.6"/>
<text font-family="Liberation Sans, sans-serif" x="279.4" y="144.0" font-size="4.8" text-anchor="middle" fill="#000" stroke="#000" stroke-width="0.1">0</text>
<text font-family="Liberation Sans, sans-serif" x="290.2" y="144.0" font-size="4.8" text-anchor="middle" fill="#000" stroke="#000" stroke-width="0.1">10<tspan font-size="3.0" dy="-1.7">2</tspan></text>
<text font-family="Liberation Sans, sans-serif" x="313.2" y="144.0" font-size="4.8" text-anchor="middle" fill="#000" stroke="#000" stroke-width="0.1">10<tspan font-size="3.0" dy="-1.7">3</tspan></text>
<text font-family="Liberation Sans, sans-serif" x="335.2" y="144.0" font-size="4.8" text-anchor="middle" fill="#000" stroke="#000" stroke-width="0.1">10<tspan font-size="3.0" dy="-1.7">4</tspan></text>
<text font-family="Liberation Sans, sans-serif" x="356.8" y="144.0" font-size="4.8" text-anchor="middle" fill="#000" stroke="#000" stroke-width="0.1">10<tspan font-size="3.0" dy="-1.7">5</tspan></text>
<clipPath id="c3"><rect x="37.9" y="160.4" width="98.4" height="99.5"/></clipPath>
<g clip-path="url(#c3)">
<path d="M59.0 259.4 L61.0 258.2 L62.6 258.2 L64.0 259.0 L65.2 255.0 L66.6 250.6 L68.0 246.0 L69.4 242.0 L70.6 239.4 L71.6 239.0 L72.6 241.4 L73.6 245.0 L74.6 248.6 L75.6 246.0 L76.4 239.0 L77.2 235.4 L78.0 235.0 L78.8 240.0 L79.6 246.0 L80.6 249.4 L81.8 250.2 L83.0 251.4 L84.2 250.6 L85.4 248.0 L86.6 244.0 L87.8 239.0 L89.0 234.0 L90.2 230.6 L91.2 227.4 L92.0 221.0 L92.6 207.0 L93.2 187.0 L93.8 171.0 L94.2 167.8 L94.8 177.0 L95.6 195.0 L96.4 213.0 L97.2 225.0 L98.0 232.0 L98.8 233.0 L99.6 227.0 L100.2 218.6 L100.8 221.0 L101.6 228.6 L102.4 230.6 L103.0 223.0 L103.4 211.0 L103.8 196.0 L104.2 185.0 L104.6 180.6 L105.0 182.2 L105.6 189.4 L106.4 198.2 L107.2 207.4 L108.0 221.0 L108.6 234.0 L109.6 237.4 L110.8 239.0 L112.0 235.4 L113.2 231.0 L114.4 227.4 L115.4 224.0 L116.2 223.6 L117.0 226.6 L118.0 232.0 L119.2 239.0 L120.4 245.0 L121.6 249.4 L122.8 253.0 L124.0 254.4 L125.4 255.4 L126.6 258.0 L127.6 259.4 Z" fill="#e3e3e3" stroke="none"/>
<path d="M59.0 259.4 L61.0 258.2 L62.6 258.2 L64.0 259.0 L65.2 255.0 L66.6 250.6 L68.0 246.0 L69.4 242.0 L70.6 239.4 L71.6 239.0 L72.6 241.4 L73.6 245.0 L74.6 248.6 L75.6 246.0 L76.4 239.0 L77.2 235.4 L78.0 235.0 L78.8 240.0 L79.6 246.0 L80.6 249.4 L81.8 250.2 L83.0 251.4 L84.2 250.6 L85.4 248.0 L86.6 244.0 L87.8 239.0 L89.0 234.0 L90.2 230.6 L91.2 227.4 L92.0 221.0 L92.6 207.0 L93.2 187.0 L93.8 171.0 L94.2 167.8 L94.8 177.0 L95.6 195.0 L96.4 213.0 L97.2 225.0 L98.0 232.0 L98.8 233.0 L99.6 227.0 L100.2 218.6 L100.8 221.0 L101.6 228.6 L102.4 230.6 L103.0 223.0 L103.4 211.0 L103.8 196.0 L104.2 185.0 L104.6 180.6 L105.0 182.2 L105.6 189.4 L106.4 198.2 L107.2 207.4 L108.0 221.0 L108.6 234.0 L109.6 237.4 L110.8 239.0 L112.0 235.4 L113.2 231.0 L114.4 227.4 L115.4 224.0 L116.2 223.6 L117.0 226.6 L118.0 232.0 L119.2 239.0 L120.4 245.0 L121.6 249.4 L122.8 253.0 L124.0 254.4 L125.4 255.4 L126.6 258.0 L127.6 259.4" fill="none" stroke="#888888" stroke-width="1.25" stroke-linejoin="round"/>
<path d="M38.6 232.0 L39.0 239.0 L39.6 248.0 L40.2 254.0 L41.0 257.4 L42.4 259.0 L44.0 258.6 L45.4 256.6 L46.8 254.6 L48.2 254.4 L49.6 255.6 L51.2 257.0 L52.8 258.0 L54.4 257.4 L56.0 256.0 L57.6 254.6 L58.8 255.0 L60.0 254.6 L61.2 250.6 L62.4 248.6 L63.6 248.0 L64.8 247.0 L66.0 246.0 L67.2 244.0 L68.4 241.4 L69.4 238.0 L70.2 240.0 L71.0 243.0 L71.8 237.0 L72.6 230.0 L73.4 223.0 L74.2 219.0 L75.2 218.2 L76.2 217.8 L77.0 212.0 L77.8 205.0 L78.6 200.0 L79.2 201.4 L79.8 208.6 L80.4 213.0 L81.0 205.0 L81.6 193.0 L82.2 181.0 L82.8 172.6 L83.4 175.0 L84.0 185.0 L84.6 197.0 L85.4 208.0 L86.0 213.0 L86.6 205.0 L87.4 192.0 L88.2 182.0 L88.8 178.6 L89.4 182.0 L90.0 188.0 L90.8 188.6 L91.6 186.6 L92.2 177.0 L92.8 168.0 L93.4 167.4 L93.8 177.0 L94.4 185.4 L95.0 180.0 L95.6 173.4 L96.2 172.6 L97.0 176.0 L97.8 180.0 L98.8 184.6 L100.0 187.0 L101.0 188.0 L101.8 183.0 L102.6 176.0 L103.4 169.8 L104.0 172.0 L104.8 180.0 L105.6 188.0 L106.6 197.0 L107.6 206.0 L108.4 210.0 L109.2 209.4 L110.0 204.0 L110.6 202.0 L111.2 207.4 L112.0 217.0 L112.8 226.0 L113.6 232.0 L114.6 235.4 L115.6 243.0 L116.6 246.6 L117.8 247.4 L118.8 252.0 L120.0 255.4 L121.4 257.4 L122.8 257.8 L124.4 258.2 L126.0 259.0 L127.6 259.4 L136.6 259.4" fill="none" stroke="#0a0a0a" stroke-width="1.3" stroke-linejoin="round"/>
</g>
<rect x="37.9" y="161.4" width="98.4" height="97.9" fill="none" stroke="#0a0a0a" stroke-width="1.3"/>
<line x1="37.3" y1="259.50" x2="136.9" y2="259.50" stroke="#0a0a0a" stroke-width="1.9"/>
<line x1="35.8" y1="165.8" x2="37.9" y2="165.8" stroke="#111" stroke-width="1.2"/>
<text font-family="Liberation Sans, sans-serif" x="34.7" y="168.0" font-size="4.8" text-anchor="end" fill="#000" stroke="#000" stroke-width="0.1">100</text>
<line x1="35.8" y1="184.5" x2="37.9" y2="184.5" stroke="#111" stroke-width="1.2"/>
<text font-family="Liberation Sans, sans-serif" x="34.7" y="186.7" font-size="4.8" text-anchor="end" fill="#000" stroke="#000" stroke-width="0.1">80</text>
<line x1="35.8" y1="203.2" x2="37.9" y2="203.2" stroke="#111" stroke-width="1.2"/>
<text font-family="Liberation Sans, sans-serif" x="34.7" y="205.4" font-size="4.8" text-anchor="end" fill="#000" stroke="#000" stroke-width="0.1">60</text>
<line x1="35.8" y1="221.9" x2="37.9" y2="221.9" stroke="#111" stroke-width="1.2"/>
<text font-family="Liberation Sans, sans-serif" x="34.7" y="224.1" font-size="4.8" text-anchor="end" fill="#000" stroke="#000" stroke-width="0.1">40</text>
<line x1="35.8" y1="240.6" x2="37.9" y2="240.6" stroke="#111" stroke-width="1.2"/>
<text font-family="Liberation Sans, sans-serif" x="34.7" y="242.8" font-size="4.8" text-anchor="end" fill="#000" stroke="#000" stroke-width="0.1">20</text>
<line x1="35.8" y1="259.3" x2="37.9" y2="259.3" stroke="#111" stroke-width="1.2"/>
<text font-family="Liberation Sans, sans-serif" x="34.7" y="261.5" font-size="4.8" text-anchor="end" fill="#000" stroke="#000" stroke-width="0.1">0</text>
<line x1="36.6" y1="170.48" x2="37.9" y2="170.48" stroke="#222" stroke-width="0.6"/>
<line x1="36.6" y1="175.15" x2="37.9" y2="175.15" stroke="#222" stroke-width="0.6"/>
<line x1="36.6" y1="179.83" x2="37.9" y2="179.83" stroke="#222" stroke-width="0.6"/>
<line x1="36.6" y1="189.18" x2="37.9" y2="189.18" stroke="#222" stroke-width="0.6"/>
<line x1="36.6" y1="193.85" x2="37.9" y2="193.85" stroke="#222" stroke-width="0.6"/>
<line x1="36.6" y1="198.53" x2="37.9" y2="198.53" stroke="#222" stroke-width="0.6"/>
<line x1="36.6" y1="207.88" x2="37.9" y2="207.88" stroke="#222" stroke-width="0.6"/>
<line x1="36.6" y1="212.55" x2="37.9" y2="212.55" stroke="#222" stroke-width="0.6"/>
<line x1="36.6" y1="217.23" x2="37.9" y2="217.23" stroke="#222" stroke-width="0.6"/>
<line x1="36.6" y1="226.58" x2="37.9" y2="226.58" stroke="#222" stroke-width="0.6"/>
<line x1="36.6" y1="231.25" x2="37.9" y2="231.25" stroke="#222" stroke-width="0.6"/>
<line x1="36.6" y1="235.93" x2="37.9" y2="235.93" stroke="#222" stroke-width="0.6"/>
<line x1="36.6" y1="245.28" x2="37.9" y2="245.28" stroke="#222" stroke-width="0.6"/>
<line x1="36.6" y1="249.95" x2="37.9" y2="249.95" stroke="#222" stroke-width="0.6"/>
<line x1="36.6" y1="254.62" x2="37.9" y2="254.62" stroke="#222" stroke-width="0.6"/>
<line x1="51.4" y1="259.3" x2="51.4" y2="261.7" stroke="#222" stroke-width="1.9"/>
<line x1="65.0" y1="259.3" x2="65.0" y2="261.5" stroke="#222" stroke-width="1.1"/>
<line x1="87.6" y1="259.3" x2="87.6" y2="261.5" stroke="#222" stroke-width="1.1"/>
<line x1="107.6" y1="259.3" x2="107.6" y2="261.5" stroke="#222" stroke-width="1.1"/>
<line x1="127.6" y1="259.3" x2="127.6" y2="261.5" stroke="#222" stroke-width="1.1"/>
<line x1="71.8" y1="259.3" x2="71.8" y2="260.5" stroke="#222" stroke-width="0.5"/>
<line x1="75.8" y1="259.3" x2="75.8" y2="260.5" stroke="#222" stroke-width="0.5"/>
<line x1="78.6" y1="259.3" x2="78.6" y2="260.5" stroke="#222" stroke-width="0.5"/>
<line x1="80.8" y1="259.3" x2="80.8" y2="260.5" stroke="#222" stroke-width="0.5"/>
<line x1="82.6" y1="259.3" x2="82.6" y2="260.5" stroke="#222" stroke-width="0.5"/>
<line x1="84.1" y1="259.3" x2="84.1" y2="260.5" stroke="#222" stroke-width="0.5"/>
<line x1="85.4" y1="259.3" x2="85.4" y2="260.5" stroke="#222" stroke-width="0.5"/>
<line x1="86.6" y1="259.3" x2="86.6" y2="260.5" stroke="#222" stroke-width="0.5"/>
<line x1="93.6" y1="259.3" x2="93.6" y2="260.5" stroke="#222" stroke-width="0.5"/>
<line x1="97.1" y1="259.3" x2="97.1" y2="260.5" stroke="#222" stroke-width="0.5"/>
<line x1="99.6" y1="259.3" x2="99.6" y2="260.5" stroke="#222" stroke-width="0.5"/>
<line x1="101.6" y1="259.3" x2="101.6" y2="260.5" stroke="#222" stroke-width="0.5"/>
<line x1="103.2" y1="259.3" x2="103.2" y2="260.5" stroke="#222" stroke-width="0.5"/>
<line x1="104.5" y1="259.3" x2="104.5" y2="260.5" stroke="#222" stroke-width="0.5"/>
<line x1="105.7" y1="259.3" x2="105.7" y2="260.5" stroke="#222" stroke-width="0.5"/>
<line x1="106.7" y1="259.3" x2="106.7" y2="260.5" stroke="#222" stroke-width="0.5"/>
<line x1="113.6" y1="259.3" x2="113.6" y2="260.5" stroke="#222" stroke-width="0.5"/>
<line x1="117.1" y1="259.3" x2="117.1" y2="260.5" stroke="#222" stroke-width="0.5"/>
<line x1="119.6" y1="259.3" x2="119.6" y2="260.5" stroke="#222" stroke-width="0.5"/>
<line x1="121.6" y1="259.3" x2="121.6" y2="260.5" stroke="#222" stroke-width="0.5"/>
<line x1="123.2" y1="259.3" x2="123.2" y2="260.5" stroke="#222" stroke-width="0.5"/>
<line x1="124.5" y1="259.3" x2="124.5" y2="260.5" stroke="#222" stroke-width="0.5"/>
<line x1="125.7" y1="259.3" x2="125.7" y2="260.5" stroke="#222" stroke-width="0.5"/>
<line x1="126.7" y1="259.3" x2="126.7" y2="260.5" stroke="#222" stroke-width="0.5"/>
<line x1="133.6" y1="259.3" x2="133.6" y2="260.5" stroke="#222" stroke-width="0.5"/>
<line x1="38.5" y1="259.3" x2="38.5" y2="261.3" stroke="#222" stroke-width="0.9"/>
<line x1="42.5" y1="259.3" x2="42.5" y2="260.9" stroke="#222" stroke-width="0.7"/>
<line x1="58.5" y1="259.3" x2="58.5" y2="260.7" stroke="#222" stroke-width="0.6"/>
<text font-family="Liberation Sans, sans-serif" x="51.4" y="269.1" font-size="4.8" text-anchor="middle" fill="#000" stroke="#000" stroke-width="0.1">0</text>
<text font-family="Liberation Sans, sans-serif" x="64.8" y="269.1" font-size="4.8" text-anchor="middle" fill="#000" stroke="#000" stroke-width="0.1">10<tspan font-size="3.0" dy="-1.7">2</tspan></text>
<text font-family="Liberation Sans, sans-serif" x="87.4" y="269.1" font-size="4.8" text-anchor="middle" fill="#000" stroke="#000" stroke-width="0.1">10<tspan font-size="3.0" dy="-1.7">3</tspan></text>
<text font-family="Liberation Sans, sans-serif" x="107.4" y="269.1" font-size="4.8" text-anchor="middle" fill="#000" stroke="#000" stroke-width="0.1">10<tspan font-size="3.0" dy="-1.7">4</tspan></text>
<text font-family="Liberation Sans, sans-serif" x="127.4" y="269.1" font-size="4.8" text-anchor="middle" fill="#000" stroke="#000" stroke-width="0.1">10<tspan font-size="3.0" dy="-1.7">5</tspan></text>
<clipPath id="c4"><rect x="153.4" y="160.4" width="98.4" height="99.5"/></clipPath>
<g clip-path="url(#c4)">
<path d="M169.0 259.4 L171.0 258.0 L173.0 257.0 L175.0 256.2 L176.6 255.0 L178.0 253.8 L179.4 253.4 L180.8 252.4 L182.2 250.6 L183.6 246.6 L185.0 242.0 L186.4 237.4 L187.8 232.0 L189.2 226.6 L190.6 221.4 L191.8 217.4 L193.0 215.0 L194.0 212.0 L195.0 207.0 L196.0 202.0 L197.0 200.6 L197.8 203.4 L198.6 211.0 L199.2 212.0 L199.8 205.0 L200.4 195.0 L201.0 183.0 L201.6 175.0 L202.2 180.0 L203.0 185.0 L203.8 186.0 L204.6 191.0 L205.4 196.0 L206.2 197.0 L206.8 192.0 L207.6 182.0 L208.4 171.0 L209.0 167.4 L209.6 172.0 L210.4 181.0 L211.2 191.0 L212.0 200.0 L212.8 205.0 L213.4 201.0 L214.2 192.0 L215.0 182.0 L215.6 180.6 L216.2 184.6 L217.0 183.0 L217.6 184.0 L218.4 192.0 L219.4 199.0 L220.6 205.0 L221.8 212.0 L223.0 218.6 L224.2 222.6 L225.4 224.2 L226.6 225.0 L227.6 230.0 L228.6 236.0 L229.8 242.0 L231.0 247.0 L232.4 251.0 L233.8 253.0 L235.4 254.2 L237.2 255.4 L239.0 257.0 L241.0 258.6 L243.0 259.4 Z" fill="#e3e3e3" stroke="none"/>
<path d="M169.0 259.4 L171.0 258.0 L173.0 257.0 L175.0 256.2 L176.6 255.0 L178.0 253.8 L179.4 253.4 L180.8 252.4 L182.2 250.6 L183.6 246.6 L185.0 242.0 L186.4 237.4 L187.8 232.0 L189.2 226.6 L190.6 221.4 L191.8 217.4 L193.0 215.0 L194.0 212.0 L195.0 207.0 L196.0 202.0 L197.0 200.6 L197.8 203.4 L198.6 211.0 L199.2 212.0 L199.8 205.0 L200.4 195.0 L201.0 183.0 L201.6 175.0 L202.2 180.0 L203.0 185.0 L203.8 186.0 L204.6 191.0 L205.4 196.0 L206.2 197.0 L206.8 192.0 L207.6 182.0 L208.4 171.0 L209.0 167.4 L209.6 172.0 L210.4 181.0 L211.2 191.0 L212.0 200.0 L212.8 205.0 L213.4 201.0 L214.2 192.0 L215.0 182.0 L215.6 180.6 L216.2 184.6 L217.0 183.0 L217.6 184.0 L218.4 192.0 L219.4 199.0 L220.6 205.0 L221.8 212.0 L223.0 218.6 L224.2 222.6 L225.4 224.2 L226.6 225.0 L227.6 230.0 L228.6 236.0 L229.8 242.0 L231.0 247.0 L232.4 251.0 L233.8 253.0 L235.4 254.2 L237.2 255.4 L239.0 257.0 L241.0 258.6 L243.0 259.4" fill="none" stroke="#888888" stroke-width="1.25" stroke-linejoin="round"/>
<path d="M153.8 200.0 L154.0 219.0 L154.4 239.0 L154.8 251.0 L155.4 256.0 L156.6 257.4 L158.0 256.0 L159.4 254.0 L160.6 252.6 L161.8 253.4 L163.2 255.0 L164.6 256.0 L166.0 255.0 L167.2 254.0 L168.4 254.6 L169.6 254.4 L170.8 253.0 L171.6 252.2 L172.6 253.4 L173.8 254.0 L175.0 253.0 L176.0 250.0 L177.0 247.0 L178.0 245.4 L178.8 247.0 L179.6 249.0 L180.6 246.0 L181.8 242.0 L183.0 237.4 L184.0 236.2 L185.0 235.0 L186.0 229.4 L187.0 223.4 L188.0 216.0 L189.0 210.0 L189.8 207.0 L190.6 208.6 L191.4 212.6 L192.2 215.0 L193.0 207.4 L193.8 196.0 L194.6 185.0 L195.4 180.6 L196.2 182.0 L196.8 180.0 L197.4 172.0 L198.0 167.4 L198.6 175.0 L199.2 185.0 L200.0 192.0 L201.0 200.0 L202.0 208.6 L203.0 212.0 L203.8 215.0 L204.6 219.4 L205.4 217.4 L206.2 215.0 L207.0 218.6 L208.0 223.0 L209.0 226.6 L210.0 226.0 L211.0 228.0 L212.0 233.0 L212.8 237.4 L213.6 242.0 L214.2 245.0 L214.8 241.4 L215.6 235.0 L216.6 231.0 L217.6 230.4 L218.8 231.0 L220.0 234.6 L221.2 237.4 L222.4 237.0 L223.6 236.0 L224.8 236.6 L226.0 239.0 L227.2 243.0 L228.4 246.6 L229.6 248.6 L231.0 251.0 L232.4 253.4 L234.0 255.8 L236.0 257.4 L238.0 258.6 L240.4 259.4 L251.6 259.4" fill="none" stroke="#0a0a0a" stroke-width="1.3" stroke-linejoin="round"/>
</g>
<rect x="153.4" y="161.4" width="98.4" height="97.9" fill="none" stroke="#0a0a0a" stroke-width="1.3"/>
<line x1="152.8" y1="259.50" x2="252.4" y2="259.50" stroke="#0a0a0a" stroke-width="1.9"/>
<line x1="151.3" y1="165.8" x2="153.4" y2="165.8" stroke="#111" stroke-width="1.2"/>
<text font-family="Liberation Sans, sans-serif" x="150.2" y="168.0" font-size="4.8" text-anchor="end" fill="#000" stroke="#000" stroke-width="0.1">100</text>
<line x1="151.3" y1="184.5" x2="153.4" y2="184.5" stroke="#111" stroke-width="1.2"/>
<text font-family="Liberation Sans, sans-serif" x="150.2" y="186.7" font-size="4.8" text-anchor="end" fill="#000" stroke="#000" stroke-width="0.1">80</text>
<line x1="151.3" y1="203.2" x2="153.4" y2="203.2" stroke="#111" stroke-width="1.2"/>
<text font-family="Liberation Sans, sans-serif" x="150.2" y="205.4" font-size="4.8" text-anchor="end" fill="#000" stroke="#000" stroke-width="0.1">60</text>
<line x1="151.3" y1="221.9" x2="153.4" y2="221.9" stroke="#111" stroke-width="1.2"/>
<text font-family="Liberation Sans, sans-serif" x="150.2" y="224.1" font-size="4.8" text-anchor="end" fill="#000" stroke="#000" stroke-width="0.1">40</text>
<line x1="151.3" y1="240.6" x2="153.4" y2="240.6" stroke="#111" stroke-width="1.2"/>
<text font-family="Liberation Sans, sans-serif" x="150.2" y="242.8" font-size="4.8" text-anchor="end" fill="#000" stroke="#000" stroke-width="0.1">20</text>
<line x1="151.3" y1="259.3" x2="153.4" y2="259.3" stroke="#111" stroke-width="1.2"/>
<text font-family="Liberation Sans, sans-serif" x="150.2" y="261.5" font-size="4.8" text-anchor="end" fill="#000" stroke="#000" stroke-width="0.1">0</text>
<line x1="152.1" y1="170.48" x2="153.4" y2="170.48" stroke="#222" stroke-width="0.6"/>
<line x1="152.1" y1="175.15" x2="153.4" y2="175.15" stroke="#222" stroke-width="0.6"/>
<line x1="152.1" y1="179.83" x2="153.4" y2="179.83" stroke="#222" stroke-width="0.6"/>
<line x1="152.1" y1="189.18" x2="153.4" y2="189.18" stroke="#222" stroke-width="0.6"/>
<line x1="152.1" y1="193.85" x2="153.4" y2="193.85" stroke="#222" stroke-width="0.6"/>
<line x1="152.1" y1="198.53" x2="153.4" y2="198.53" stroke="#222" stroke-width="0.6"/>
<line x1="152.1" y1="207.88" x2="153.4" y2="207.88" stroke="#222" stroke-width="0.6"/>
<line x1="152.1" y1="212.55" x2="153.4" y2="212.55" stroke="#222" stroke-width="0.6"/>
<line x1="152.1" y1="217.23" x2="153.4" y2="217.23" stroke="#222" stroke-width="0.6"/>
<line x1="152.1" y1="226.58" x2="153.4" y2="226.58" stroke="#222" stroke-width="0.6"/>
<line x1="152.1" y1="231.25" x2="153.4" y2="231.25" stroke="#222" stroke-width="0.6"/>
<line x1="152.1" y1="235.93" x2="153.4" y2="235.93" stroke="#222" stroke-width="0.6"/>
<line x1="152.1" y1="245.28" x2="153.4" y2="245.28" stroke="#222" stroke-width="0.6"/>
<line x1="152.1" y1="249.95" x2="153.4" y2="249.95" stroke="#222" stroke-width="0.6"/>
<line x1="152.1" y1="254.62" x2="153.4" y2="254.62" stroke="#222" stroke-width="0.6"/>
<line x1="166.4" y1="259.3" x2="166.4" y2="261.7" stroke="#222" stroke-width="1.9"/>
<line x1="180.0" y1="259.3" x2="180.0" y2="261.5" stroke="#222" stroke-width="1.1"/>
<line x1="202.6" y1="259.3" x2="202.6" y2="261.5" stroke="#222" stroke-width="1.1"/>
<line x1="222.6" y1="259.3" x2="222.6" y2="261.5" stroke="#222" stroke-width="1.1"/>
<line x1="242.6" y1="259.3" x2="242.6" y2="261.5" stroke="#222" stroke-width="1.1"/>
<line x1="186.8" y1="259.3" x2="186.8" y2="260.5" stroke="#222" stroke-width="0.5"/>
<line x1="190.8" y1="259.3" x2="190.8" y2="260.5" stroke="#222" stroke-width="0.5"/>
<line x1="193.6" y1="259.3" x2="193.6" y2="260.5" stroke="#222" stroke-width="0.5"/>
<line x1="195.8" y1="259.3" x2="195.8" y2="260.5" stroke="#222" stroke-width="0.5"/>
<line x1="197.6" y1="259.3" x2="197.6" y2="260.5" stroke="#222" stroke-width="0.5"/>
<line x1="199.1" y1="259.3" x2="199.1" y2="260.5" stroke="#222" stroke-width="0.5"/>
<line x1="200.4" y1="259.3" x2="200.4" y2="260.5" stroke="#222" stroke-width="0.5"/>
<line x1="201.6" y1="259.3" x2="201.6" y2="260.5" stroke="#222" stroke-width="0.5"/>
<line x1="208.6" y1="259.3" x2="208.6" y2="260.5" stroke="#222" stroke-width="0.5"/>
<line x1="212.1" y1="259.3" x2="212.1" y2="260.5" stroke="#222" stroke-width="0.5"/>
<line x1="214.6" y1="259.3" x2="214.6" y2="260.5" stroke="#222" stroke-width="0.5"/>
<line x1="216.6" y1="259.3" x2="216.6" y2="260.5" stroke="#222" stroke-width="0.5"/>
<line x1="218.2" y1="259.3" x2="218.2" y2="260.5" stroke="#222" stroke-width="0.5"/>
<line x1="219.5" y1="259.3" x2="219.5" y2="260.5" stroke="#222" stroke-width="0.5"/>
<line x1="220.7" y1="259.3" x2="220.7" y2="260.5" stroke="#222" stroke-width="0.5"/>
<line x1="221.7" y1="259.3" x2="221.7" y2="260.5" stroke="#222" stroke-width="0.5"/>
<line x1="228.6" y1="259.3" x2="228.6" y2="260.5" stroke="#222" stroke-width="0.5"/>
<line x1="232.1" y1="259.3" x2="232.1" y2="260.5" stroke="#222" stroke-width="0.5"/>
<line x1="234.6" y1="259.3" x2="234.6" y2="260.5" stroke="#222" stroke-width="0.5"/>
<line x1="236.6" y1="259.3" x2="236.6" y2="260.5" stroke="#222" stroke-width="0.5"/>
<line x1="238.2" y1="259.3" x2="238.2" y2="260.5" stroke="#222" stroke-width="0.5"/>
<line x1="239.5" y1="259.3" x2="239.5" y2="260.5" stroke="#222" stroke-width="0.5"/>
<line x1="240.7" y1="259.3" x2="240.7" y2="260.5" stroke="#222" stroke-width="0.5"/>
<line x1="241.7" y1="259.3" x2="241.7" y2="260.5" stroke="#222" stroke-width="0.5"/>
<line x1="248.6" y1="259.3" x2="248.6" y2="260.5" stroke="#222" stroke-width="0.5"/>
<line x1="154.0" y1="259.3" x2="154.0" y2="261.3" stroke="#222" stroke-width="0.9"/>
<line x1="158.0" y1="259.3" x2="158.0" y2="260.9" stroke="#222" stroke-width="0.7"/>
<line x1="173.5" y1="259.3" x2="173.5" y2="260.7" stroke="#222" stroke-width="0.6"/>
<text font-family="Liberation Sans, sans-serif" x="166.4" y="269.1" font-size="4.8" text-anchor="middle" fill="#000" stroke="#000" stroke-width="0.1">0</text>
<text font-family="Liberation Sans, sans-serif" x="179.8" y="269.1" font-size="4.8" text-anchor="middle" fill="#000" stroke="#000" stroke-width="0.1">10<tspan font-size="3.0" dy="-1.7">2</tspan></text>
<text font-family="Liberation Sans, sans-serif" x="202.4" y="269.1" font-size="4.8" text-anchor="middle" fill="#000" stroke="#000" stroke-width="0.1">10<tspan font-size="3.0" dy="-1.7">3</tspan></text>
<text font-family="Liberation Sans, sans-serif" x="222.4" y="269.1" font-size="4.8" text-anchor="middle" fill="#000" stroke="#000" stroke-width="0.1">10<tspan font-size="3.0" dy="-1.7">4</tspan></text>
<text font-family="Liberation Sans, sans-serif" x="242.4" y="269.1" font-size="4.8" text-anchor="middle" fill="#000" stroke="#000" stroke-width="0.1">10<tspan font-size="3.0" dy="-1.7">5</tspan></text>
<clipPath id="c5"><rect x="267.0" y="160.4" width="98.2" height="99.5"/></clipPath>
<g clip-path="url(#c5)">
<path d="M267.0 259.4 L267.2 247.4 L269.0 248.6 L271.0 249.8 L273.4 251.2 L276.0 252.0 L278.6 251.0 L281.0 249.4 L283.4 248.4 L285.4 248.0 L287.0 249.0 L288.6 248.2 L290.2 246.6 L291.8 243.4 L293.4 239.0 L295.0 233.4 L296.4 227.4 L297.6 222.0 L298.8 214.6 L299.8 210.0 L301.0 208.0 L302.4 207.0 L303.4 201.0 L304.2 193.0 L305.0 186.6 L306.0 185.0 L306.8 184.6 L307.6 180.0 L308.2 171.0 L308.6 167.4 L309.2 173.0 L309.8 176.0 L310.6 177.4 L311.2 189.0 L311.8 200.0 L312.8 206.0 L314.0 215.0 L315.2 224.0 L316.4 233.0 L317.6 240.6 L319.0 247.0 L320.6 251.4 L322.6 254.0 L325.0 255.6 L328.0 257.0 L331.4 258.2 L334.6 259.0 L337.4 259.4 Z" fill="#e3e3e3" stroke="none"/>
<path d="M267.0 259.4 L267.2 247.4 L269.0 248.6 L271.0 249.8 L273.4 251.2 L276.0 252.0 L278.6 251.0 L281.0 249.4 L283.4 248.4 L285.4 248.0 L287.0 249.0 L288.6 248.2 L290.2 246.6 L291.8 243.4 L293.4 239.0 L295.0 233.4 L296.4 227.4 L297.6 222.0 L298.8 214.6 L299.8 210.0 L301.0 208.0 L302.4 207.0 L303.4 201.0 L304.2 193.0 L305.0 186.6 L306.0 185.0 L306.8 184.6 L307.6 180.0 L308.2 171.0 L308.6 167.4 L309.2 173.0 L309.8 176.0 L310.6 177.4 L311.2 189.0 L311.8 200.0 L312.8 206.0 L314.0 215.0 L315.2 224.0 L316.4 233.0 L317.6 240.6 L319.0 247.0 L320.6 251.4 L322.6 254.0 L325.0 255.6 L328.0 257.0 L331.4 258.2 L334.6 259.0 L337.4 259.4" fill="none" stroke="#888888" stroke-width="1.25" stroke-linejoin="round"/>
<path d="M267.0 223.0 L267.2 235.0 L267.6 246.0 L268.2 253.0 L269.0 256.0 L270.6 255.4 L272.4 255.6 L274.4 256.0 L276.4 255.2 L278.4 255.0 L280.4 255.6 L282.4 255.2 L284.2 254.4 L285.8 253.0 L286.8 250.6 L287.8 247.4 L288.8 245.0 L289.8 245.4 L290.8 248.0 L291.8 252.0 L292.6 250.0 L293.4 246.0 L294.4 244.0 L295.4 243.4 L296.4 240.0 L297.4 235.4 L298.4 233.8 L299.6 233.0 L300.6 230.0 L301.8 225.4 L303.0 221.0 L304.2 216.0 L305.2 208.6 L306.0 199.0 L306.8 192.6 L307.6 189.4 L308.4 185.0 L309.0 181.0 L309.6 188.0 L310.2 198.0 L310.6 203.0 L311.2 193.0 L311.8 179.0 L312.4 169.0 L312.8 167.4 L313.4 176.0 L314.0 184.0 L314.8 191.0 L315.6 197.0 L316.4 196.0 L317.2 195.0 L317.8 203.0 L318.6 215.0 L319.4 224.0 L320.2 227.0 L321.0 224.6 L321.8 225.0 L322.6 232.0 L323.6 240.0 L324.6 246.0 L325.6 248.2 L326.6 247.4 L327.6 247.4 L328.6 249.0 L329.6 247.4 L330.6 247.0 L331.6 248.0 L332.6 252.0 L333.8 254.4 L335.4 255.4 L337.4 256.4 L339.8 257.0 L342.2 257.2 L344.2 257.6 L345.6 256.6 L347.0 258.0 L348.6 259.2 L351.0 259.4 L354.0 258.8 L356.0 258.6 L358.0 259.2 L360.0 259.4 L365.0 259.4" fill="none" stroke="#0a0a0a" stroke-width="1.3" stroke-linejoin="round"/>
</g>
<rect x="267.0" y="161.4" width="98.2" height="97.9" fill="none" stroke="#0a0a0a" stroke-width="1.3"/>
<line x1="266.4" y1="259.50" x2="365.8" y2="259.50" stroke="#0a0a0a" stroke-width="1.9"/>
<line x1="264.9" y1="165.8" x2="267.0" y2="165.8" stroke="#111" stroke-width="1.2"/>
<text font-family="Liberation Sans, sans-serif" x="263.8" y="168.0" font-size="4.8" text-anchor="end" fill="#000" stroke="#000" stroke-width="0.1">100</text>
<line x1="264.9" y1="184.5" x2="267.0" y2="184.5" stroke="#111" stroke-width="1.2"/>
<text font-family="Liberation Sans, sans-serif" x="263.8" y="186.7" font-size="4.8" text-anchor="end" fill="#000" stroke="#000" stroke-width="0.1">80</text>
<line x1="264.9" y1="203.2" x2="267.0" y2="203.2" stroke="#111" stroke-width="1.2"/>
<text font-family="Liberation Sans, sans-serif" x="263.8" y="205.4" font-size="4.8" text-anchor="end" fill="#000" stroke="#000" stroke-width="0.1">60</text>
<line x1="264.9" y1="221.9" x2="267.0" y2="221.9" stroke="#111" stroke-width="1.2"/>
<text font-family="Liberation Sans, sans-serif" x="263.8" y="224.1" font-size="4.8" text-anchor="end" fill="#000" stroke="#000" stroke-width="0.1">40</text>
<line x1="264.9" y1="240.6" x2="267.0" y2="240.6" stroke="#111" stroke-width="1.2"/>
<text font-family="Liberation Sans, sans-serif" x="263.8" y="242.8" font-size="4.8" text-anchor="end" fill="#000" stroke="#000" stroke-width="0.1">20</text>
<line x1="264.9" y1="259.3" x2="267.0" y2="259.3" stroke="#111" stroke-width="1.2"/>
<text font-family="Liberation Sans, sans-serif" x="263.8" y="261.5" font-size="4.8" text-anchor="end" fill="#000" stroke="#000" stroke-width="0.1">0</text>
<line x1="265.7" y1="170.48" x2="267.0" y2="170.48" stroke="#222" stroke-width="0.6"/>
<line x1="265.7" y1="175.15" x2="267.0" y2="175.15" stroke="#222" stroke-width="0.6"/>
<line x1="265.7" y1="179.83" x2="267.0" y2="179.83" stroke="#222" stroke-width="0.6"/>
<line x1="265.7" y1="189.18" x2="267.0" y2="189.18" stroke="#222" stroke-width="0.6"/>
<line x1="265.7" y1="193.85" x2="267.0" y2="193.85" stroke="#222" stroke-width="0.6"/>
<line x1="265.7" y1="198.53" x2="267.0" y2="198.53" stroke="#222" stroke-width="0.6"/>
<line x1="265.7" y1="207.88" x2="267.0" y2="207.88" stroke="#222" stroke-width="0.6"/>
<line x1="265.7" y1="212.55" x2="267.0" y2="212.55" stroke="#222" stroke-width="0.6"/>
<line x1="265.7" y1="217.23" x2="267.0" y2="217.23" stroke="#222" stroke-width="0.6"/>
<line x1="265.7" y1="226.58" x2="267.0" y2="226.58" stroke="#222" stroke-width="0.6"/>
<line x1="265.7" y1="231.25" x2="267.0" y2="231.25" stroke="#222" stroke-width="0.6"/>
<line x1="265.7" y1="235.93" x2="267.0" y2="235.93" stroke="#222" stroke-width="0.6"/>
<line x1="265.7" y1="245.28" x2="267.0" y2="245.28" stroke="#222" stroke-width="0.6"/>
<line x1="265.7" y1="249.95" x2="267.0" y2="249.95" stroke="#222" stroke-width="0.6"/>
<line x1="265.7" y1="254.62" x2="267.0" y2="254.62" stroke="#222" stroke-width="0.6"/>
<line x1="280.4" y1="259.3" x2="280.4" y2="261.7" stroke="#222" stroke-width="1.9"/>
<line x1="293.6" y1="259.3" x2="293.6" y2="261.5" stroke="#222" stroke-width="1.1"/>
<line x1="316.0" y1="259.3" x2="316.0" y2="261.5" stroke="#222" stroke-width="1.1"/>
<line x1="336.0" y1="259.3" x2="336.0" y2="261.5" stroke="#222" stroke-width="1.1"/>
<line x1="356.0" y1="259.3" x2="356.0" y2="261.5" stroke="#222" stroke-width="1.1"/>
<line x1="300.3" y1="259.3" x2="300.3" y2="260.5" stroke="#222" stroke-width="0.5"/>
<line x1="304.3" y1="259.3" x2="304.3" y2="260.5" stroke="#222" stroke-width="0.5"/>
<line x1="307.1" y1="259.3" x2="307.1" y2="260.5" stroke="#222" stroke-width="0.5"/>
<line x1="309.3" y1="259.3" x2="309.3" y2="260.5" stroke="#222" stroke-width="0.5"/>
<line x1="311.0" y1="259.3" x2="311.0" y2="260.5" stroke="#222" stroke-width="0.5"/>
<line x1="312.5" y1="259.3" x2="312.5" y2="260.5" stroke="#222" stroke-width="0.5"/>
<line x1="313.8" y1="259.3" x2="313.8" y2="260.5" stroke="#222" stroke-width="0.5"/>
<line x1="315.0" y1="259.3" x2="315.0" y2="260.5" stroke="#222" stroke-width="0.5"/>
<line x1="322.0" y1="259.3" x2="322.0" y2="260.5" stroke="#222" stroke-width="0.5"/>
<line x1="325.5" y1="259.3" x2="325.5" y2="260.5" stroke="#222" stroke-width="0.5"/>
<line x1="328.0" y1="259.3" x2="328.0" y2="260.5" stroke="#222" stroke-width="0.5"/>
<line x1="330.0" y1="259.3" x2="330.0" y2="260.5" stroke="#222" stroke-width="0.5"/>
<line x1="331.6" y1="259.3" x2="331.6" y2="260.5" stroke="#222" stroke-width="0.5"/>
<line x1="332.9" y1="259.3" x2="332.9" y2="260.5" stroke="#222" stroke-width="0.5"/>
<line x1="334.1" y1="259.3" x2="334.1" y2="260.5" stroke="#222" stroke-width="0.5"/>
<line x1="335.1" y1="259.3" x2="335.1" y2="260.5" stroke="#222" stroke-width="0.5"/>
<line x1="342.0" y1="259.3" x2="342.0" y2="260.5" stroke="#222" stroke-width="0.5"/>
<line x1="345.5" y1="259.3" x2="345.5" y2="260.5" stroke="#222" stroke-width="0.5"/>
<line x1="348.0" y1="259.3" x2="348.0" y2="260.5" stroke="#222" stroke-width="0.5"/>
<line x1="350.0" y1="259.3" x2="350.0" y2="260.5" stroke="#222" stroke-width="0.5"/>
<line x1="351.6" y1="259.3" x2="351.6" y2="260.5" stroke="#222" stroke-width="0.5"/>
<line x1="352.9" y1="259.3" x2="352.9" y2="260.5" stroke="#222" stroke-width="0.5"/>
<line x1="354.1" y1="259.3" x2="354.1" y2="260.5" stroke="#222" stroke-width="0.5"/>
<line x1="355.1" y1="259.3" x2="355.1" y2="260.5" stroke="#222" stroke-width="0.5"/>
<line x1="362.0" y1="259.3" x2="362.0" y2="260.5" stroke="#222" stroke-width="0.5"/>
<line x1="267.6" y1="259.3" x2="267.6" y2="261.3" stroke="#222" stroke-width="0.9"/>
<line x1="271.6" y1="259.3" x2="271.6" y2="260.9" stroke="#222" stroke-width="0.7"/>
<line x1="287.3" y1="259.3" x2="287.3" y2="260.7" stroke="#222" stroke-width="0.6"/>
<text font-family="Liberation Sans, sans-serif" x="280.4" y="269.1" font-size="4.8" text-anchor="middle" fill="#000" stroke="#000" stroke-width="0.1">0</text>
<text font-family="Liberation Sans, sans-serif" x="293.4" y="269.1" font-size="4.8" text-anchor="middle" fill="#000" stroke="#000" stroke-width="0.1">10<tspan font-size="3.0" dy="-1.7">2</tspan></text>
<text font-family="Liberation Sans, sans-serif" x="315.8" y="269.1" font-size="4.8" text-anchor="middle" fill="#000" stroke="#000" stroke-width="0.1">10<tspan font-size="3.0" dy="-1.7">3</tspan></text>
<text font-family="Liberation Sans, sans-serif" x="335.8" y="269.1" font-size="4.8" text-anchor="middle" fill="#000" stroke="#000" stroke-width="0.1">10<tspan font-size="3.0" dy="-1.7">4</tspan></text>
<text font-family="Liberation Sans, sans-serif" x="355.8" y="269.1" font-size="4.8" text-anchor="middle" fill="#000" stroke="#000" stroke-width="0.1">10<tspan font-size="3.0" dy="-1.7">5</tspan></text>
<clipPath id="c6"><rect x="38.8" y="286.7" width="98.4" height="99.7"/></clipPath>
<g clip-path="url(#c6)">
<path d="M96.0 385.6 L97.2 383.6 L98.4 382.2 L99.4 382.4 L100.4 384.0 L101.2 382.4 L102.0 379.6 L103.0 377.2 L104.0 376.0 L105.0 376.6 L105.8 379.0 L106.6 379.2 L107.4 376.0 L108.2 369.0 L109.0 360.0 L110.0 349.0 L111.0 338.0 L112.0 327.0 L112.8 319.0 L113.6 314.4 L114.4 313.0 L115.0 311.0 L115.4 300.0 L115.8 294.0 L116.2 299.0 L116.6 312.0 L117.0 330.0 L117.4 348.0 L117.8 360.0 L118.4 357.0 L119.0 349.0 L119.8 343.0 L120.6 340.0 L121.6 339.0 L122.4 340.0 L123.2 343.6 L124.0 350.0 L124.8 358.0 L125.6 366.0 L126.4 373.6 L127.4 379.6 L128.6 383.6 L130.0 385.6 Z" fill="#e3e3e3" stroke="none"/>
<path d="M96.0 385.6 L97.2 383.6 L98.4 382.2 L99.4 382.4 L100.4 384.0 L101.2 382.4 L102.0 379.6 L103.0 377.2 L104.0 376.0 L105.0 376.6 L105.8 379.0 L106.6 379.2 L107.4 376.0 L108.2 369.0 L109.0 360.0 L110.0 349.0 L111.0 338.0 L112.0 327.0 L112.8 319.0 L113.6 314.4 L114.4 313.0 L115.0 311.0 L115.4 300.0 L115.8 294.0 L116.2 299.0 L116.6 312.0 L117.0 330.0 L117.4 348.0 L117.8 360.0 L118.4 357.0 L119.0 349.0 L119.8 343.0 L120.6 340.0 L121.6 339.0 L122.4 340.0 L123.2 343.6 L124.0 350.0 L124.8 358.0 L125.6 366.0 L126.4 373.6 L127.4 379.6 L128.6 383.6 L130.0 385.6" fill="none" stroke="#888888" stroke-width="1.25" stroke-linejoin="round"/>
<path d="M73.6 385.6 L74.8 384.0 L76.0 382.4 L77.2 382.0 L78.2 383.0 L79.2 384.8 L80.0 385.6" fill="#ececec" stroke="#9a9a9a" stroke-width="0.9" stroke-linejoin="round"/>
<path d="M39.0 385.6 L80.0 385.6 L83.6 385.2 L86.0 384.0 L88.0 381.6 L89.6 378.4 L90.8 374.4 L91.8 369.0 L92.6 362.0 L93.4 352.0 L94.2 342.0 L95.0 333.6 L95.6 330.0 L96.2 332.4 L97.0 336.0 L98.0 337.6 L99.0 338.0 L99.8 339.0 L100.6 345.0 L101.4 350.0 L102.2 352.0 L103.0 351.0 L103.6 346.0 L104.2 334.0 L104.8 318.0 L105.4 305.0 L106.0 301.0 L106.6 303.0 L107.2 312.0 L107.8 321.0 L108.4 326.4 L109.0 324.0 L109.6 314.0 L110.2 303.0 L110.8 295.6 L111.4 293.6 L112.0 302.0 L112.6 314.0 L113.2 325.0 L113.8 332.4 L114.6 332.0 L115.4 328.0 L116.0 326.4 L116.6 330.0 L117.4 338.0 L118.2 345.0 L119.0 350.0 L120.0 354.4 L121.0 359.6 L122.0 361.6 L122.8 363.0 L123.6 366.4 L124.6 372.4 L125.8 378.4 L127.2 382.8 L128.8 385.0 L130.4 385.6 L137.4 385.6" fill="none" stroke="#0a0a0a" stroke-width="1.3" stroke-linejoin="round"/>
</g>
<rect x="38.8" y="287.7" width="98.4" height="98.1" fill="none" stroke="#0a0a0a" stroke-width="1.3"/>
<line x1="38.2" y1="386.00" x2="137.8" y2="386.00" stroke="#0a0a0a" stroke-width="1.9"/>
<line x1="36.7" y1="292.1" x2="38.8" y2="292.1" stroke="#111" stroke-width="1.2"/>
<text font-family="Liberation Sans, sans-serif" x="35.6" y="294.3" font-size="4.8" text-anchor="end" fill="#000" stroke="#000" stroke-width="0.1">100</text>
<line x1="36.7" y1="310.8" x2="38.8" y2="310.8" stroke="#111" stroke-width="1.2"/>
<text font-family="Liberation Sans, sans-serif" x="35.6" y="313.0" font-size="4.8" text-anchor="end" fill="#000" stroke="#000" stroke-width="0.1">80</text>
<line x1="36.7" y1="329.6" x2="38.8" y2="329.6" stroke="#111" stroke-width="1.2"/>
<text font-family="Liberation Sans, sans-serif" x="35.6" y="331.8" font-size="4.8" text-anchor="end" fill="#000" stroke="#000" stroke-width="0.1">60</text>
<line x1="36.7" y1="348.3" x2="38.8" y2="348.3" stroke="#111" stroke-width="1.2"/>
<text font-family="Liberation Sans, sans-serif" x="35.6" y="350.5" font-size="4.8" text-anchor="end" fill="#000" stroke="#000" stroke-width="0.1">40</text>
<line x1="36.7" y1="367.1" x2="38.8" y2="367.1" stroke="#111" stroke-width="1.2"/>
<text font-family="Liberation Sans, sans-serif" x="35.6" y="369.3" font-size="4.8" text-anchor="end" fill="#000" stroke="#000" stroke-width="0.1">20</text>
<line x1="36.7" y1="385.8" x2="38.8" y2="385.8" stroke="#111" stroke-width="1.2"/>
<text font-family="Liberation Sans, sans-serif" x="35.6" y="388.0" font-size="4.8" text-anchor="end" fill="#000" stroke="#000" stroke-width="0.1">0</text>
<line x1="37.5" y1="296.78" x2="38.8" y2="296.78" stroke="#222" stroke-width="0.6"/>
<line x1="37.5" y1="301.47" x2="38.8" y2="301.47" stroke="#222" stroke-width="0.6"/>
<line x1="37.5" y1="306.15" x2="38.8" y2="306.15" stroke="#222" stroke-width="0.6"/>
<line x1="37.5" y1="315.52" x2="38.8" y2="315.52" stroke="#222" stroke-width="0.6"/>
<line x1="37.5" y1="320.21" x2="38.8" y2="320.21" stroke="#222" stroke-width="0.6"/>
<line x1="37.5" y1="324.89" x2="38.8" y2="324.89" stroke="#222" stroke-width="0.6"/>
<line x1="37.5" y1="334.26" x2="38.8" y2="334.26" stroke="#222" stroke-width="0.6"/>
<line x1="37.5" y1="338.95" x2="38.8" y2="338.95" stroke="#222" stroke-width="0.6"/>
<line x1="37.5" y1="343.63" x2="38.8" y2="343.63" stroke="#222" stroke-width="0.6"/>
<line x1="37.5" y1="353.00" x2="38.8" y2="353.00" stroke="#222" stroke-width="0.6"/>
<line x1="37.5" y1="357.69" x2="38.8" y2="357.69" stroke="#222" stroke-width="0.6"/>
<line x1="37.5" y1="362.38" x2="38.8" y2="362.38" stroke="#222" stroke-width="0.6"/>
<line x1="37.5" y1="371.75" x2="38.8" y2="371.75" stroke="#222" stroke-width="0.6"/>
<line x1="37.5" y1="376.43" x2="38.8" y2="376.43" stroke="#222" stroke-width="0.6"/>
<line x1="37.5" y1="381.12" x2="38.8" y2="381.12" stroke="#222" stroke-width="0.6"/>
<line x1="52.6" y1="385.8" x2="52.6" y2="388.2" stroke="#222" stroke-width="1.9"/>
<line x1="66.0" y1="385.8" x2="66.0" y2="388.0" stroke="#222" stroke-width="1.1"/>
<line x1="88.6" y1="385.8" x2="88.6" y2="388.0" stroke="#222" stroke-width="1.1"/>
<line x1="108.6" y1="385.8" x2="108.6" y2="388.0" stroke="#222" stroke-width="1.1"/>
<line x1="128.0" y1="385.8" x2="128.0" y2="388.0" stroke="#222" stroke-width="1.1"/>
<line x1="72.8" y1="385.8" x2="72.8" y2="387.0" stroke="#222" stroke-width="0.5"/>
<line x1="76.8" y1="385.8" x2="76.8" y2="387.0" stroke="#222" stroke-width="0.5"/>
<line x1="79.6" y1="385.8" x2="79.6" y2="387.0" stroke="#222" stroke-width="0.5"/>
<line x1="81.8" y1="385.8" x2="81.8" y2="387.0" stroke="#222" stroke-width="0.5"/>
<line x1="83.6" y1="385.8" x2="83.6" y2="387.0" stroke="#222" stroke-width="0.5"/>
<line x1="85.1" y1="385.8" x2="85.1" y2="387.0" stroke="#222" stroke-width="0.5"/>
<line x1="86.4" y1="385.8" x2="86.4" y2="387.0" stroke="#222" stroke-width="0.5"/>
<line x1="87.6" y1="385.8" x2="87.6" y2="387.0" stroke="#222" stroke-width="0.5"/>
<line x1="94.6" y1="385.8" x2="94.6" y2="387.0" stroke="#222" stroke-width="0.5"/>
<line x1="98.1" y1="385.8" x2="98.1" y2="387.0" stroke="#222" stroke-width="0.5"/>
<line x1="100.6" y1="385.8" x2="100.6" y2="387.0" stroke="#222" stroke-width="0.5"/>
<line x1="102.6" y1="385.8" x2="102.6" y2="387.0" stroke="#222" stroke-width="0.5"/>
<line x1="104.2" y1="385.8" x2="104.2" y2="387.0" stroke="#222" stroke-width="0.5"/>
<line x1="105.5" y1="385.8" x2="105.5" y2="387.0" stroke="#222" stroke-width="0.5"/>
<line x1="106.7" y1="385.8" x2="106.7" y2="387.0" stroke="#222" stroke-width="0.5"/>
<line x1="107.7" y1="385.8" x2="107.7" y2="387.0" stroke="#222" stroke-width="0.5"/>
<line x1="114.4" y1="385.8" x2="114.4" y2="387.0" stroke="#222" stroke-width="0.5"/>
<line x1="117.9" y1="385.8" x2="117.9" y2="387.0" stroke="#222" stroke-width="0.5"/>
<line x1="120.3" y1="385.8" x2="120.3" y2="387.0" stroke="#222" stroke-width="0.5"/>
<line x1="122.2" y1="385.8" x2="122.2" y2="387.0" stroke="#222" stroke-width="0.5"/>
<line x1="123.7" y1="385.8" x2="123.7" y2="387.0" stroke="#222" stroke-width="0.5"/>
<line x1="125.0" y1="385.8" x2="125.0" y2="387.0" stroke="#222" stroke-width="0.5"/>
<line x1="126.1" y1="385.8" x2="126.1" y2="387.0" stroke="#222" stroke-width="0.5"/>
<line x1="127.1" y1="385.8" x2="127.1" y2="387.0" stroke="#222" stroke-width="0.5"/>
<line x1="133.8" y1="385.8" x2="133.8" y2="387.0" stroke="#222" stroke-width="0.5"/>
<line x1="39.4" y1="385.8" x2="39.4" y2="387.8" stroke="#222" stroke-width="0.9"/>
<line x1="43.4" y1="385.8" x2="43.4" y2="387.4" stroke="#222" stroke-width="0.7"/>
<line x1="59.6" y1="385.8" x2="59.6" y2="387.2" stroke="#222" stroke-width="0.6"/>
<text font-family="Liberation Sans, sans-serif" x="52.6" y="395.6" font-size="4.8" text-anchor="middle" fill="#000" stroke="#000" stroke-width="0.1">0</text>
<text font-family="Liberation Sans, sans-serif" x="65.8" y="395.6" font-size="4.8" text-anchor="middle" fill="#000" stroke="#000" stroke-width="0.1">10<tspan font-size="3.0" dy="-1.7">2</tspan></text>
<text font-family="Liberation Sans, sans-serif" x="88.4" y="395.6" font-size="4.8" text-anchor="middle" fill="#000" stroke="#000" stroke-width="0.1">10<tspan font-size="3.0" dy="-1.7">3</tspan></text>
<text font-family="Liberation Sans, sans-serif" x="108.4" y="395.6" font-size="4.8" text-anchor="middle" fill="#000" stroke="#000" stroke-width="0.1">10<tspan font-size="3.0" dy="-1.7">4</tspan></text>
<text font-family="Liberation Sans, sans-serif" x="127.8" y="395.6" font-size="4.8" text-anchor="middle" fill="#000" stroke="#000" stroke-width="0.1">10<tspan font-size="3.0" dy="-1.7">5</tspan></text>
<clipPath id="c7"><rect x="153.9" y="286.7" width="98.4" height="99.7"/></clipPath>
<g clip-path="url(#c7)">
<path d="M206.4 385.6 L208.4 384.4 L210.0 382.0 L211.4 377.0 L212.6 369.0 L213.8 359.0 L215.0 347.0 L216.0 336.0 L216.8 330.0 L217.6 328.0 L218.2 323.0 L218.8 319.0 L219.4 320.0 L220.0 328.0 L220.6 327.0 L221.2 320.0 L221.8 308.0 L222.4 298.0 L223.0 294.4 L223.6 294.0 L224.2 299.0 L224.8 306.0 L225.6 312.0 L226.4 316.0 L227.2 314.4 L228.0 314.0 L228.8 317.0 L229.6 324.0 L230.4 333.6 L231.0 330.0 L231.6 327.0 L232.4 327.0 L233.0 332.4 L233.6 344.0 L234.4 356.0 L235.4 365.0 L236.6 371.0 L238.0 375.0 L239.4 378.4 L240.8 382.0 L242.4 384.4 L244.4 385.6 Z" fill="#e3e3e3" stroke="none"/>
<path d="M206.4 385.6 L208.4 384.4 L210.0 382.0 L211.4 377.0 L212.6 369.0 L213.8 359.0 L215.0 347.0 L216.0 336.0 L216.8 330.0 L217.6 328.0 L218.2 323.0 L218.8 319.0 L219.4 320.0 L220.0 328.0 L220.6 327.0 L221.2 320.0 L221.8 308.0 L222.4 298.0 L223.0 294.4 L223.6 294.0 L224.2 299.0 L224.8 306.0 L225.6 312.0 L226.4 316.0 L227.2 314.4 L228.0 314.0 L228.8 317.0 L229.6 324.0 L230.4 333.6 L231.0 330.0 L231.6 327.0 L232.4 327.0 L233.0 332.4 L233.6 344.0 L234.4 356.0 L235.4 365.0 L236.6 371.0 L238.0 375.0 L239.4 378.4 L240.8 382.0 L242.4 384.4 L244.4 385.6" fill="none" stroke="#888888" stroke-width="1.25" stroke-linejoin="round"/>
<path d="M154.0 385.6 L199.0 385.6 L201.0 384.4 L203.0 382.4 L205.0 380.0 L206.6 375.6 L208.0 369.0 L209.2 361.0 L210.4 351.0 L211.4 341.6 L212.4 331.0 L213.2 320.0 L214.0 307.0 L214.6 297.0 L215.2 294.0 L215.8 298.0 L216.4 296.4 L217.0 296.0 L217.6 300.0 L218.4 304.0 L219.4 307.0 L220.4 309.0 L221.4 311.6 L222.2 319.0 L223.0 328.0 L223.8 326.4 L224.6 331.0 L225.6 338.0 L226.8 344.0 L228.0 349.0 L229.2 354.4 L230.4 357.2 L231.4 355.6 L232.0 354.0 L232.8 358.0 L233.8 363.6 L235.0 369.0 L236.2 373.6 L237.4 378.0 L238.8 381.6 L240.4 384.0 L242.4 385.2 L244.4 385.6 L252.4 385.6" fill="none" stroke="#0a0a0a" stroke-width="1.3" stroke-linejoin="round"/>
</g>
<rect x="153.9" y="287.7" width="98.4" height="98.1" fill="none" stroke="#0a0a0a" stroke-width="1.3"/>
<line x1="153.3" y1="386.00" x2="252.9" y2="386.00" stroke="#0a0a0a" stroke-width="1.9"/>
<line x1="151.8" y1="292.1" x2="153.9" y2="292.1" stroke="#111" stroke-width="1.2"/>
<text font-family="Liberation Sans, sans-serif" x="150.7" y="294.3" font-size="4.8" text-anchor="end" fill="#000" stroke="#000" stroke-width="0.1">100</text>
<line x1="151.8" y1="310.8" x2="153.9" y2="310.8" stroke="#111" stroke-width="1.2"/>
<text font-family="Liberation Sans, sans-serif" x="150.7" y="313.0" font-size="4.8" text-anchor="end" fill="#000" stroke="#000" stroke-width="0.1">80</text>
<line x1="151.8" y1="329.6" x2="153.9" y2="329.6" stroke="#111" stroke-width="1.2"/>
<text font-family="Liberation Sans, sans-serif" x="150.7" y="331.8" font-size="4.8" text-anchor="end" fill="#000" stroke="#000" stroke-width="0.1">60</text>
<line x1="151.8" y1="348.3" x2="153.9" y2="348.3" stroke="#111" stroke-width="1.2"/>
<text font-family="Liberation Sans, sans-serif" x="150.7" y="350.5" font-size="4.8" text-anchor="end" fill="#000" stroke="#000" stroke-width="0.1">40</text>
<line x1="151.8" y1="367.1" x2="153.9" y2="367.1" stroke="#111" stroke-width="1.2"/>
<text font-family="Liberation Sans, sans-serif" x="150.7" y="369.3" font-size="4.8" text-anchor="end" fill="#000" stroke="#000" stroke-width="0.1">20</text>
<line x1="151.8" y1="385.8" x2="153.9" y2="385.8" stroke="#111" stroke-width="1.2"/>
<text font-family="Liberation Sans, sans-serif" x="150.7" y="388.0" font-size="4.8" text-anchor="end" fill="#000" stroke="#000" stroke-width="0.1">0</text>
<line x1="152.6" y1="296.78" x2="153.9" y2="296.78" stroke="#222" stroke-width="0.6"/>
<line x1="152.6" y1="301.47" x2="153.9" y2="301.47" stroke="#222" stroke-width="0.6"/>
<line x1="152.6" y1="306.15" x2="153.9" y2="306.15" stroke="#222" stroke-width="0.6"/>
<line x1="152.6" y1="315.52" x2="153.9" y2="315.52" stroke="#222" stroke-width="0.6"/>
<line x1="152.6" y1="320.21" x2="153.9" y2="320.21" stroke="#222" stroke-width="0.6"/>
<line x1="152.6" y1="324.89" x2="153.9" y2="324.89" stroke="#222" stroke-width="0.6"/>
<line x1="152.6" y1="334.26" x2="153.9" y2="334.26" stroke="#222" stroke-width="0.6"/>
<line x1="152.6" y1="338.95" x2="153.9" y2="338.95" stroke="#222" stroke-width="0.6"/>
<line x1="152.6" y1="343.63" x2="153.9" y2="343.63" stroke="#222" stroke-width="0.6"/>
<line x1="152.6" y1="353.00" x2="153.9" y2="353.00" stroke="#222" stroke-width="0.6"/>
<line x1="152.6" y1="357.69" x2="153.9" y2="357.69" stroke="#222" stroke-width="0.6"/>
<line x1="152.6" y1="362.38" x2="153.9" y2="362.38" stroke="#222" stroke-width="0.6"/>
<line x1="152.6" y1="371.75" x2="153.9" y2="371.75" stroke="#222" stroke-width="0.6"/>
<line x1="152.6" y1="376.43" x2="153.9" y2="376.43" stroke="#222" stroke-width="0.6"/>
<line x1="152.6" y1="381.12" x2="153.9" y2="381.12" stroke="#222" stroke-width="0.6"/>
<line x1="167.6" y1="385.8" x2="167.6" y2="388.2" stroke="#222" stroke-width="1.9"/>
<line x1="181.0" y1="385.8" x2="181.0" y2="388.0" stroke="#222" stroke-width="1.1"/>
<line x1="203.6" y1="385.8" x2="203.6" y2="388.0" stroke="#222" stroke-width="1.1"/>
<line x1="223.6" y1="385.8" x2="223.6" y2="388.0" stroke="#222" stroke-width="1.1"/>
<line x1="243.0" y1="385.8" x2="243.0" y2="388.0" stroke="#222" stroke-width="1.1"/>
<line x1="187.8" y1="385.8" x2="187.8" y2="387.0" stroke="#222" stroke-width="0.5"/>
<line x1="191.8" y1="385.8" x2="191.8" y2="387.0" stroke="#222" stroke-width="0.5"/>
<line x1="194.6" y1="385.8" x2="194.6" y2="387.0" stroke="#222" stroke-width="0.5"/>
<line x1="196.8" y1="385.8" x2="196.8" y2="387.0" stroke="#222" stroke-width="0.5"/>
<line x1="198.6" y1="385.8" x2="198.6" y2="387.0" stroke="#222" stroke-width="0.5"/>
<line x1="200.1" y1="385.8" x2="200.1" y2="387.0" stroke="#222" stroke-width="0.5"/>
<line x1="201.4" y1="385.8" x2="201.4" y2="387.0" stroke="#222" stroke-width="0.5"/>
<line x1="202.6" y1="385.8" x2="202.6" y2="387.0" stroke="#222" stroke-width="0.5"/>
<line x1="209.6" y1="385.8" x2="209.6" y2="387.0" stroke="#222" stroke-width="0.5"/>
<line x1="213.1" y1="385.8" x2="213.1" y2="387.0" stroke="#222" stroke-width="0.5"/>
<line x1="215.6" y1="385.8" x2="215.6" y2="387.0" stroke="#222" stroke-width="0.5"/>
<line x1="217.6" y1="385.8" x2="217.6" y2="387.0" stroke="#222" stroke-width="0.5"/>
<line x1="219.2" y1="385.8" x2="219.2" y2="387.0" stroke="#222" stroke-width="0.5"/>
<line x1="220.5" y1="385.8" x2="220.5" y2="387.0" stroke="#222" stroke-width="0.5"/>
<line x1="221.7" y1="385.8" x2="221.7" y2="387.0" stroke="#222" stroke-width="0.5"/>
<line x1="222.7" y1="385.8" x2="222.7" y2="387.0" stroke="#222" stroke-width="0.5"/>
<line x1="229.4" y1="385.8" x2="229.4" y2="387.0" stroke="#222" stroke-width="0.5"/>
<line x1="232.9" y1="385.8" x2="232.9" y2="387.0" stroke="#222" stroke-width="0.5"/>
<line x1="235.3" y1="385.8" x2="235.3" y2="387.0" stroke="#222" stroke-width="0.5"/>
<line x1="237.2" y1="385.8" x2="237.2" y2="387.0" stroke="#222" stroke-width="0.5"/>
<line x1="238.7" y1="385.8" x2="238.7" y2="387.0" stroke="#222" stroke-width="0.5"/>
<line x1="240.0" y1="385.8" x2="240.0" y2="387.0" stroke="#222" stroke-width="0.5"/>
<line x1="241.1" y1="385.8" x2="241.1" y2="387.0" stroke="#222" stroke-width="0.5"/>
<line x1="242.1" y1="385.8" x2="242.1" y2="387.0" stroke="#222" stroke-width="0.5"/>
<line x1="248.8" y1="385.8" x2="248.8" y2="387.0" stroke="#222" stroke-width="0.5"/>
<line x1="154.5" y1="385.8" x2="154.5" y2="387.8" stroke="#222" stroke-width="0.9"/>
<line x1="158.5" y1="385.8" x2="158.5" y2="387.4" stroke="#222" stroke-width="0.7"/>
<line x1="174.6" y1="385.8" x2="174.6" y2="387.2" stroke="#222" stroke-width="0.6"/>
<text font-family="Liberation Sans, sans-serif" x="167.6" y="395.6" font-size="4.8" text-anchor="middle" fill="#000" stroke="#000" stroke-width="0.1">0</text>
<text font-family="Liberation Sans, sans-serif" x="180.8" y="395.6" font-size="4.8" text-anchor="middle" fill="#000" stroke="#000" stroke-width="0.1">10<tspan font-size="3.0" dy="-1.7">2</tspan></text>
<text font-family="Liberation Sans, sans-serif" x="203.4" y="395.6" font-size="4.8" text-anchor="middle" fill="#000" stroke="#000" stroke-width="0.1">10<tspan font-size="3.0" dy="-1.7">3</tspan></text>
<text font-family="Liberation Sans, sans-serif" x="223.4" y="395.6" font-size="4.8" text-anchor="middle" fill="#000" stroke="#000" stroke-width="0.1">10<tspan font-size="3.0" dy="-1.7">4</tspan></text>
<text font-family="Liberation Sans, sans-serif" x="242.8" y="395.6" font-size="4.8" text-anchor="middle" fill="#000" stroke="#000" stroke-width="0.1">10<tspan font-size="3.0" dy="-1.7">5</tspan></text>
<clipPath id="c8"><rect x="266.6" y="286.7" width="98.3" height="99.7"/></clipPath>
<g clip-path="url(#c8)">
<path d="M316.6 385.6 L318.6 384.6 L320.2 382.0 L321.6 377.0 L322.8 369.6 L324.0 360.0 L325.0 349.0 L326.0 338.0 L327.0 325.6 L328.0 313.0 L329.0 302.0 L329.8 297.0 L330.6 293.6 L331.2 299.0 L331.8 309.0 L332.6 323.0 L333.4 338.0 L334.2 351.0 L335.0 362.0 L336.0 371.0 L337.2 377.6 L338.6 382.0 L340.6 384.6 L343.0 385.6 Z" fill="#e3e3e3" stroke="none"/>
<path d="M316.6 385.6 L318.6 384.6 L320.2 382.0 L321.6 377.0 L322.8 369.6 L324.0 360.0 L325.0 349.0 L326.0 338.0 L327.0 325.6 L328.0 313.0 L329.0 302.0 L329.8 297.0 L330.6 293.6 L331.2 299.0 L331.8 309.0 L332.6 323.0 L333.4 338.0 L334.2 351.0 L335.0 362.0 L336.0 371.0 L337.2 377.6 L338.6 382.0 L340.6 384.6 L343.0 385.6" fill="none" stroke="#888888" stroke-width="1.25" stroke-linejoin="round"/>
<path d="M266.4 385.6 L308.6 385.6 L312.0 385.2 L314.6 384.4 L316.6 382.4 L318.0 379.6 L319.2 373.6 L320.4 366.0 L321.6 358.0 L322.8 351.0 L323.8 348.0 L324.6 343.6 L325.4 335.0 L326.2 323.0 L327.0 310.0 L327.6 299.0 L328.2 294.0 L328.8 302.0 L329.4 310.0 L330.2 318.0 L331.0 324.0 L331.8 327.6 L332.6 334.0 L333.4 344.0 L334.2 353.0 L335.0 361.0 L335.8 367.6 L336.6 372.4 L337.6 377.0 L339.0 381.0 L340.6 383.6 L342.6 384.4 L344.6 384.0 L346.6 384.8 L349.0 385.0 L351.4 384.4 L354.0 385.2 L357.0 385.6 L364.6 385.6" fill="none" stroke="#0a0a0a" stroke-width="1.3" stroke-linejoin="round"/>
</g>
<rect x="266.6" y="287.7" width="98.3" height="98.1" fill="none" stroke="#0a0a0a" stroke-width="1.3"/>
<line x1="266.0" y1="386.00" x2="365.5" y2="386.00" stroke="#0a0a0a" stroke-width="1.9"/>
<line x1="264.5" y1="292.1" x2="266.6" y2="292.1" stroke="#111" stroke-width="1.2"/>
<text font-family="Liberation Sans, sans-serif" x="263.4" y="294.3" font-size="4.8" text-anchor="end" fill="#000" stroke="#000" stroke-width="0.1">100</text>
<line x1="264.5" y1="310.8" x2="266.6" y2="310.8" stroke="#111" stroke-width="1.2"/>
<text font-family="Liberation Sans, sans-serif" x="263.4" y="313.0" font-size="4.8" text-anchor="end" fill="#000" stroke="#000" stroke-width="0.1">80</text>
<line x1="264.5" y1="329.6" x2="266.6" y2="329.6" stroke="#111" stroke-width="1.2"/>
<text font-family="Liberation Sans, sans-serif" x="263.4" y="331.8" font-size="4.8" text-anchor="end" fill="#000" stroke="#000" stroke-width="0.1">60</text>
<line x1="264.5" y1="348.3" x2="266.6" y2="348.3" stroke="#111" stroke-width="1.2"/>
<text font-family="Liberation Sans, sans-serif" x="263.4" y="350.5" font-size="4.8" text-anchor="end" fill="#000" stroke="#000" stroke-width="0.1">40</text>
<line x1="264.5" y1="367.1" x2="266.6" y2="367.1" stroke="#111" stroke-width="1.2"/>
<text font-family="Liberation Sans, sans-serif" x="263.4" y="369.3" font-size="4.8" text-anchor="end" fill="#000" stroke="#000" stroke-width="0.1">20</text>
<line x1="264.5" y1="385.8" x2="266.6" y2="385.8" stroke="#111" stroke-width="1.2"/>
<text font-family="Liberation Sans, sans-serif" x="263.4" y="388.0" font-size="4.8" text-anchor="end" fill="#000" stroke="#000" stroke-width="0.1">0</text>
<line x1="265.3" y1="296.78" x2="266.6" y2="296.78" stroke="#222" stroke-width="0.6"/>
<line x1="265.3" y1="301.47" x2="266.6" y2="301.47" stroke="#222" stroke-width="0.6"/>
<line x1="265.3" y1="306.15" x2="266.6" y2="306.15" stroke="#222" stroke-width="0.6"/>
<line x1="265.3" y1="315.52" x2="266.6" y2="315.52" stroke="#222" stroke-width="0.6"/>
<line x1="265.3" y1="320.21" x2="266.6" y2="320.21" stroke="#222" stroke-width="0.6"/>
<line x1="265.3" y1="324.89" x2="266.6" y2="324.89" stroke="#222" stroke-width="0.6"/>
<line x1="265.3" y1="334.26" x2="266.6" y2="334.26" stroke="#222" stroke-width="0.6"/>
<line x1="265.3" y1="338.95" x2="266.6" y2="338.95" stroke="#222" stroke-width="0.6"/>
<line x1="265.3" y1="343.63" x2="266.6" y2="343.63" stroke="#222" stroke-width="0.6"/>
<line x1="265.3" y1="353.00" x2="266.6" y2="353.00" stroke="#222" stroke-width="0.6"/>
<line x1="265.3" y1="357.69" x2="266.6" y2="357.69" stroke="#222" stroke-width="0.6"/>
<line x1="265.3" y1="362.38" x2="266.6" y2="362.38" stroke="#222" stroke-width="0.6"/>
<line x1="265.3" y1="371.75" x2="266.6" y2="371.75" stroke="#222" stroke-width="0.6"/>
<line x1="265.3" y1="376.43" x2="266.6" y2="376.43" stroke="#222" stroke-width="0.6"/>
<line x1="265.3" y1="381.12" x2="266.6" y2="381.12" stroke="#222" stroke-width="0.6"/>
<line x1="280.0" y1="385.8" x2="280.0" y2="388.2" stroke="#222" stroke-width="1.9"/>
<line x1="293.0" y1="385.8" x2="293.0" y2="388.0" stroke="#222" stroke-width="1.1"/>
<line x1="315.4" y1="385.8" x2="315.4" y2="388.0" stroke="#222" stroke-width="1.1"/>
<line x1="335.4" y1="385.8" x2="335.4" y2="388.0" stroke="#222" stroke-width="1.1"/>
<line x1="355.0" y1="385.8" x2="355.0" y2="388.0" stroke="#222" stroke-width="1.1"/>
<line x1="299.7" y1="385.8" x2="299.7" y2="387.0" stroke="#222" stroke-width="0.5"/>
<line x1="303.7" y1="385.8" x2="303.7" y2="387.0" stroke="#222" stroke-width="0.5"/>
<line x1="306.5" y1="385.8" x2="306.5" y2="387.0" stroke="#222" stroke-width="0.5"/>
<line x1="308.7" y1="385.8" x2="308.7" y2="387.0" stroke="#222" stroke-width="0.5"/>
<line x1="310.4" y1="385.8" x2="310.4" y2="387.0" stroke="#222" stroke-width="0.5"/>
<line x1="311.9" y1="385.8" x2="311.9" y2="387.0" stroke="#222" stroke-width="0.5"/>
<line x1="313.2" y1="385.8" x2="313.2" y2="387.0" stroke="#222" stroke-width="0.5"/>
<line x1="314.4" y1="385.8" x2="314.4" y2="387.0" stroke="#222" stroke-width="0.5"/>
<line x1="321.4" y1="385.8" x2="321.4" y2="387.0" stroke="#222" stroke-width="0.5"/>
<line x1="324.9" y1="385.8" x2="324.9" y2="387.0" stroke="#222" stroke-width="0.5"/>
<line x1="327.4" y1="385.8" x2="327.4" y2="387.0" stroke="#222" stroke-width="0.5"/>
<line x1="329.4" y1="385.8" x2="329.4" y2="387.0" stroke="#222" stroke-width="0.5"/>
<line x1="331.0" y1="385.8" x2="331.0" y2="387.0" stroke="#222" stroke-width="0.5"/>
<line x1="332.3" y1="385.8" x2="332.3" y2="387.0" stroke="#222" stroke-width="0.5"/>
<line x1="333.5" y1="385.8" x2="333.5" y2="387.0" stroke="#222" stroke-width="0.5"/>
<line x1="334.5" y1="385.8" x2="334.5" y2="387.0" stroke="#222" stroke-width="0.5"/>
<line x1="341.3" y1="385.8" x2="341.3" y2="387.0" stroke="#222" stroke-width="0.5"/>
<line x1="344.8" y1="385.8" x2="344.8" y2="387.0" stroke="#222" stroke-width="0.5"/>
<line x1="347.2" y1="385.8" x2="347.2" y2="387.0" stroke="#222" stroke-width="0.5"/>
<line x1="349.1" y1="385.8" x2="349.1" y2="387.0" stroke="#222" stroke-width="0.5"/>
<line x1="350.7" y1="385.8" x2="350.7" y2="387.0" stroke="#222" stroke-width="0.5"/>
<line x1="352.0" y1="385.8" x2="352.0" y2="387.0" stroke="#222" stroke-width="0.5"/>
<line x1="353.1" y1="385.8" x2="353.1" y2="387.0" stroke="#222" stroke-width="0.5"/>
<line x1="354.1" y1="385.8" x2="354.1" y2="387.0" stroke="#222" stroke-width="0.5"/>
<line x1="360.9" y1="385.8" x2="360.9" y2="387.0" stroke="#222" stroke-width="0.5"/>
<line x1="364.4" y1="385.8" x2="364.4" y2="387.0" stroke="#222" stroke-width="0.5"/>
<line x1="267.2" y1="385.8" x2="267.2" y2="387.8" stroke="#222" stroke-width="0.9"/>
<line x1="271.2" y1="385.8" x2="271.2" y2="387.4" stroke="#222" stroke-width="0.7"/>
<line x1="286.8" y1="385.8" x2="286.8" y2="387.2" stroke="#222" stroke-width="0.6"/>
<text font-family="Liberation Sans, sans-serif" x="280.0" y="395.6" font-size="4.8" text-anchor="middle" fill="#000" stroke="#000" stroke-width="0.1">0</text>
<text font-family="Liberation Sans, sans-serif" x="292.8" y="395.6" font-size="4.8" text-anchor="middle" fill="#000" stroke="#000" stroke-width="0.1">10<tspan font-size="3.0" dy="-1.7">2</tspan></text>
<text font-family="Liberation Sans, sans-serif" x="315.2" y="395.6" font-size="4.8" text-anchor="middle" fill="#000" stroke="#000" stroke-width="0.1">10<tspan font-size="3.0" dy="-1.7">3</tspan></text>
<text font-family="Liberation Sans, sans-serif" x="335.2" y="395.6" font-size="4.8" text-anchor="middle" fill="#000" stroke="#000" stroke-width="0.1">10<tspan font-size="3.0" dy="-1.7">4</tspan></text>
<text font-family="Liberation Sans, sans-serif" x="354.8" y="395.6" font-size="4.8" text-anchor="middle" fill="#000" stroke="#000" stroke-width="0.1">10<tspan font-size="3.0" dy="-1.7">5</tspan></text>
</g>
<text font-family="Liberation Sans, sans-serif" x="0.8" y="13.0" font-size="14.8" font-weight="bold" fill="#111" stroke="#111" stroke-width="0.28">a<tspan font-weight="normal" stroke="none" dx="0.9">)</tspan></text>
<text font-family="Liberation Sans, sans-serif" x="88.6" y="32.3" font-size="13.8" text-anchor="middle" fill="#646464" stroke="#646464" stroke-width="0.28">Stage 1</text>
<text font-family="Liberation Sans, sans-serif" x="206.4" y="32.3" font-size="13.8" text-anchor="middle" fill="#646464" stroke="#646464" stroke-width="0.28">Stage 2</text>
<text font-family="Liberation Sans, sans-serif" x="317.5" y="32.3" font-size="13.8" text-anchor="middle" fill="#646464" stroke="#646464" stroke-width="0.28">Stage 3</text>
<line x1="19.6" y1="32" x2="19.6" y2="154.5" stroke="#333" stroke-width="1.1"/>
<line x1="19.6" y1="261.2" x2="19.6" y2="383" stroke="#333" stroke-width="1.1"/>
<text font-family="Liberation Sans, sans-serif" transform="translate(23.3 256.4) rotate(-90)" font-size="13.8" fill="#111" stroke="#111" stroke-width="0.28">Percent of Max</text>
<line x1="38.4" y1="150.50" x2="161.0" y2="150.50" stroke="#262626" stroke-width="1.1"/>
<line x1="250.5" y1="150.50" x2="365.8" y2="150.50" stroke="#262626" stroke-width="1.1"/>
<text font-family="Liberation Sans, sans-serif" x="204.3" y="155.4" font-size="13.5" text-anchor="middle" fill="#111" stroke="#111" stroke-width="0.28">GLUT1 (IC)</text>
<line x1="40.0" y1="278.75" x2="177.0" y2="278.75" stroke="#262626" stroke-width="1.6"/>
<line x1="227.6" y1="278.75" x2="364.8" y2="278.75" stroke="#262626" stroke-width="1.6"/>
<text font-family="Liberation Sans, sans-serif" x="203.7" y="282.2" font-size="13.4" text-anchor="middle" fill="#111" stroke="#111" stroke-width="0.28">CD71</text>
<line x1="39.4" y1="402.75" x2="176.3" y2="402.75" stroke="#262626" stroke-width="1.3"/>
<line x1="226.7" y1="402.75" x2="364.6" y2="402.75" stroke="#262626" stroke-width="1.3"/>
<text font-family="Liberation Sans, sans-serif" x="204.2" y="406.2" font-size="13.4" text-anchor="middle" fill="#111" stroke="#111" stroke-width="0.28">CD98</text>
<rect x="384.2" y="39.8" width="20.5" height="7.0" fill="#a9a9a9"/>
<text font-family="Liberation Sans, sans-serif" x="408.6" y="46.0" font-size="12.0" fill="#111" stroke="#111" stroke-width="0.28">WT</text>
<line x1="384.6" y1="55.3" x2="403.8" y2="55.3" stroke="#222" stroke-width="1.2"/>
<text font-family="Liberation Sans, sans-serif" x="408.8" y="58.3" font-size="12.0" fill="#111" stroke="#111" stroke-width="0.28">PLZF-cre Hdac3 cKO</text>
<path d="M385.4 66.8h1.9 M392.2 66.8h4.4 M399.3 66.8h1.4 M402.2 66.8h2.3" stroke="#222" stroke-width="1.2" fill="none"/>
<text font-family="Liberation Sans, sans-serif" x="408.8" y="69.4" font-size="12.0" fill="#111" stroke="#111" stroke-width="0.28">Secondary antibody only</text>
<text font-family="Liberation Sans, sans-serif" x="0.9" y="433" font-size="14.8" font-weight="bold" fill="#111" stroke="#111" stroke-width="0.28">b<tspan font-weight="normal" stroke="none" dx="0.6">)</tspan></text>
<rect x="79.6" y="441.1" width="7.4" height="8.4" fill="#060606"/>
<text font-family="Liberation Sans, sans-serif" x="89.2" y="450.5" font-size="13.5" fill="#0c0c0c" stroke="#0c0c0c" stroke-width="0.28">WT</text>
<rect x="118.25" y="442.05" width="5.9" height="7.3" fill="#fff" stroke="#060606" stroke-width="1.3"/>
<text font-family="Liberation Sans, sans-serif" x="126.6" y="450.5" font-size="13.5" fill="#0c0c0c" stroke="#0c0c0c" stroke-width="0.28">Hdac3 cKO</text>
<rect x="66.2" y="494.3" width="16.2" height="118.6" fill="#060606"/>
<line x1="74.3" y1="494.8" x2="74.3" y2="481.3" stroke="#060606" stroke-width="1.4"/>
<line x1="71.2" y1="481.3" x2="77.4" y2="481.3" stroke="#060606" stroke-width="1.4"/>
<rect x="82.70" y="544.24" width="13.80" height="68.66" fill="#fff" stroke="#060606" stroke-width="1.4"/>
<line x1="89.8" y1="544.0" x2="89.8" y2="539.2" stroke="#060606" stroke-width="1.4"/>
<line x1="86.7" y1="539.2" x2="92.9" y2="539.2" stroke="#060606" stroke-width="1.4"/>
<rect x="120.0" y="516.1" width="17.0" height="96.8" fill="#060606"/>
<line x1="128.5" y1="516.6" x2="128.5" y2="512.7" stroke="#060606" stroke-width="1.4"/>
<line x1="125.4" y1="512.7" x2="131.6" y2="512.7" stroke="#060606" stroke-width="1.4"/>
<rect x="137.30" y="556.15" width="14.00" height="56.75" fill="#fff" stroke="#060606" stroke-width="1.4"/>
<line x1="144.5" y1="556.0" x2="144.5" y2="553.1" stroke="#060606" stroke-width="1.4"/>
<line x1="141.4" y1="553.1" x2="147.6" y2="553.1" stroke="#060606" stroke-width="1.4"/>
<rect x="174.4" y="558.3" width="16.4" height="54.6" fill="#060606"/>
<line x1="182.6" y1="558.8" x2="182.6" y2="555.5" stroke="#060606" stroke-width="1.4"/>
<line x1="179.5" y1="555.5" x2="185.7" y2="555.5" stroke="#060606" stroke-width="1.4"/>
<rect x="191.10" y="564.61" width="14.40" height="48.29" fill="#fff" stroke="#060606" stroke-width="1.4"/>
<line x1="198.5" y1="564.4" x2="198.5" y2="556.2" stroke="#060606" stroke-width="1.4"/>
<line x1="195.4" y1="556.2" x2="201.6" y2="556.2" stroke="#060606" stroke-width="1.4"/>
<line x1="54.90" y1="458.50" x2="54.90" y2="613.60" stroke="#060606" stroke-width="1.6"/>
<line x1="51.50" y1="612.90" x2="218.00" y2="612.90" stroke="#060606" stroke-width="1.6"/>
<line x1="51.50" y1="612.90" x2="54.90" y2="612.90" stroke="#060606" stroke-width="1.4"/>
<text font-family="Liberation Sans, sans-serif" x="44.6" y="618.1" font-size="11.6" text-anchor="end" fill="#0c0c0c" stroke="#0c0c0c" stroke-width="0.28">0</text>
<line x1="51.50" y1="593.69" x2="54.90" y2="593.69" stroke="#060606" stroke-width="1.4"/>
<text font-family="Liberation Sans, sans-serif" x="44.6" y="598.8" font-size="11.6" text-anchor="end" fill="#0c0c0c" stroke="#0c0c0c" stroke-width="0.28">200</text>
<line x1="51.50" y1="574.48" x2="54.90" y2="574.48" stroke="#060606" stroke-width="1.4"/>
<text font-family="Liberation Sans, sans-serif" x="44.6" y="579.6" font-size="11.6" text-anchor="end" fill="#0c0c0c" stroke="#0c0c0c" stroke-width="0.28">400</text>
<line x1="51.50" y1="555.26" x2="54.90" y2="555.26" stroke="#060606" stroke-width="1.4"/>
<text font-family="Liberation Sans, sans-serif" x="44.6" y="560.4" font-size="11.6" text-anchor="end" fill="#0c0c0c" stroke="#0c0c0c" stroke-width="0.28">600</text>
<line x1="51.50" y1="536.05" x2="54.90" y2="536.05" stroke="#060606" stroke-width="1.4"/>
<text font-family="Liberation Sans, sans-serif" x="44.6" y="541.2" font-size="11.6" text-anchor="end" fill="#0c0c0c" stroke="#0c0c0c" stroke-width="0.28">800</text>
<line x1="51.50" y1="516.84" x2="54.90" y2="516.84" stroke="#060606" stroke-width="1.4"/>
<text font-family="Liberation Sans, sans-serif" x="44.6" y="522.0" font-size="11.6" text-anchor="end" fill="#0c0c0c" stroke="#0c0c0c" stroke-width="0.28">1000</text>
<line x1="51.50" y1="497.62" x2="54.90" y2="497.62" stroke="#060606" stroke-width="1.4"/>
<text font-family="Liberation Sans, sans-serif" x="44.6" y="502.8" font-size="11.6" text-anchor="end" fill="#0c0c0c" stroke="#0c0c0c" stroke-width="0.28">1200</text>
<line x1="51.50" y1="478.41" x2="54.90" y2="478.41" stroke="#060606" stroke-width="1.4"/>
<text font-family="Liberation Sans, sans-serif" x="44.6" y="483.6" font-size="11.6" text-anchor="end" fill="#0c0c0c" stroke="#0c0c0c" stroke-width="0.28">1400</text>
<line x1="51.50" y1="459.20" x2="54.90" y2="459.20" stroke="#060606" stroke-width="1.4"/>
<text font-family="Liberation Sans, sans-serif" x="44.6" y="464.4" font-size="11.6" text-anchor="end" fill="#0c0c0c" stroke="#0c0c0c" stroke-width="0.28">1600</text>
<line x1="54.90" y1="612.90" x2="54.90" y2="616.90" stroke="#060606" stroke-width="1.4"/>
<line x1="109.03" y1="612.90" x2="109.03" y2="616.90" stroke="#060606" stroke-width="1.4"/>
<line x1="163.17" y1="612.90" x2="163.17" y2="616.90" stroke="#060606" stroke-width="1.4"/>
<line x1="217.30" y1="612.90" x2="217.30" y2="616.90" stroke="#060606" stroke-width="1.4"/>
<text font-family="Liberation Sans, sans-serif" x="83.6" y="627.9" font-size="12.8" text-anchor="middle" fill="#0c0c0c" stroke="#0c0c0c" stroke-width="0.28">Stage 1</text>
<text font-family="Liberation Sans, sans-serif" x="137.8" y="627.9" font-size="12.8" text-anchor="middle" fill="#0c0c0c" stroke="#0c0c0c" stroke-width="0.28">Stage 2</text>
<text font-family="Liberation Sans, sans-serif" x="191.6" y="627.9" font-size="12.8" text-anchor="middle" fill="#0c0c0c" stroke="#0c0c0c" stroke-width="0.28">Stage 3</text>
<text font-family="Liberation Sans, sans-serif" transform="translate(14.4 525.6) rotate(-90)" font-size="13.2" text-anchor="middle" fill="#0c0c0c" stroke="#0c0c0c" stroke-width="0.28">MFI of GLUT1</text>
<text font-family="Liberation Sans, sans-serif" x="58.4" y="472.8" font-size="11.7" fill="#1a1a1a" stroke="#1a1a1a" stroke-width="0.28">*p=0.02</text>
<line x1="63.2" y1="474.90" x2="96.5" y2="474.90" stroke="#3a3a3a" stroke-width="1.1"/>
<text font-family="Liberation Sans, sans-serif" x="114.2" y="502.8" font-size="11.7" fill="#1a1a1a" stroke="#1a1a1a" stroke-width="0.28">*p=0.001</text>
<line x1="119.0" y1="504.90" x2="153.6" y2="504.90" stroke="#3a3a3a" stroke-width="1.1"/>
<text font-family="Liberation Sans, sans-serif" x="183.4" y="545.8" font-size="11.7" fill="#1a1a1a" stroke="#1a1a1a" stroke-width="0.28">N.S.</text>
<line x1="175.6" y1="548.20" x2="207.4" y2="548.20" stroke="#3a3a3a" stroke-width="1.1"/>
<rect x="301.0" y="441.1" width="7.4" height="8.4" fill="#060606"/>
<text font-family="Liberation Sans, sans-serif" x="310.6" y="450.5" font-size="13.5" fill="#0c0c0c" stroke="#0c0c0c" stroke-width="0.28">WT</text>
<rect x="339.65" y="442.05" width="5.9" height="7.3" fill="#fff" stroke="#060606" stroke-width="1.3"/>
<text font-family="Liberation Sans, sans-serif" x="348.0" y="450.5" font-size="13.5" fill="#0c0c0c" stroke="#0c0c0c" stroke-width="0.28">Hdac3 cKO</text>
<rect x="293.0" y="491.5" width="16.9" height="123.5" fill="#060606"/>
<line x1="301.4" y1="492.0" x2="301.4" y2="472.4" stroke="#060606" stroke-width="1.4"/>
<line x1="298.3" y1="472.4" x2="304.6" y2="472.4" stroke="#060606" stroke-width="1.4"/>
<rect x="310.20" y="576.52" width="13.40" height="38.48" fill="#fff" stroke="#060606" stroke-width="1.4"/>
<line x1="317.1" y1="576.3" x2="317.1" y2="570.9" stroke="#060606" stroke-width="1.4"/>
<line x1="314.0" y1="570.9" x2="320.2" y2="570.9" stroke="#060606" stroke-width="1.4"/>
<rect x="347.2" y="554.5" width="16.2" height="60.5" fill="#060606"/>
<line x1="355.3" y1="555.0" x2="355.3" y2="541.0" stroke="#060606" stroke-width="1.4"/>
<line x1="352.2" y1="541.0" x2="358.4" y2="541.0" stroke="#060606" stroke-width="1.4"/>
<rect x="363.70" y="597.79" width="15.00" height="17.21" fill="#fff" stroke="#060606" stroke-width="1.4"/>
<line x1="371.4" y1="597.6" x2="371.4" y2="594.1" stroke="#060606" stroke-width="1.4"/>
<line x1="368.3" y1="594.1" x2="374.5" y2="594.1" stroke="#060606" stroke-width="1.4"/>
<rect x="401.0" y="607.2" width="16.5" height="7.8" fill="#060606"/>
<line x1="409.2" y1="607.7" x2="409.2" y2="605.1" stroke="#060606" stroke-width="1.4"/>
<line x1="406.1" y1="605.1" x2="412.4" y2="605.1" stroke="#060606" stroke-width="1.4"/>
<rect x="417.80" y="602.08" width="13.50" height="12.92" fill="#fff" stroke="#060606" stroke-width="1.4"/>
<line x1="424.8" y1="601.9" x2="424.8" y2="599.2" stroke="#060606" stroke-width="1.4"/>
<line x1="421.6" y1="599.2" x2="427.9" y2="599.2" stroke="#060606" stroke-width="1.4"/>
<line x1="282.00" y1="458.60" x2="282.00" y2="615.70" stroke="#060606" stroke-width="1.6"/>
<line x1="278.50" y1="615.00" x2="445.00" y2="615.00" stroke="#060606" stroke-width="1.6"/>
<line x1="278.50" y1="615.00" x2="282.00" y2="615.00" stroke="#060606" stroke-width="1.4"/>
<text font-family="Liberation Sans, sans-serif" x="274.7" y="620.2" font-size="12.2" text-anchor="end" fill="#0c0c0c" stroke="#0c0c0c" stroke-width="0.28">0</text>
<line x1="278.50" y1="589.05" x2="282.00" y2="589.05" stroke="#060606" stroke-width="1.4"/>
<text font-family="Liberation Sans, sans-serif" x="274.7" y="594.2" font-size="12.2" text-anchor="end" fill="#0c0c0c" stroke="#0c0c0c" stroke-width="0.28">1000</text>
<line x1="278.50" y1="563.10" x2="282.00" y2="563.10" stroke="#060606" stroke-width="1.4"/>
<text font-family="Liberation Sans, sans-serif" x="274.7" y="568.3" font-size="12.2" text-anchor="end" fill="#0c0c0c" stroke="#0c0c0c" stroke-width="0.28">2000</text>
<line x1="278.50" y1="537.15" x2="282.00" y2="537.15" stroke="#060606" stroke-width="1.4"/>
<text font-family="Liberation Sans, sans-serif" x="274.7" y="542.3" font-size="12.2" text-anchor="end" fill="#0c0c0c" stroke="#0c0c0c" stroke-width="0.28">3000</text>
<line x1="278.50" y1="511.20" x2="282.00" y2="511.20" stroke="#060606" stroke-width="1.4"/>
<text font-family="Liberation Sans, sans-serif" x="274.7" y="516.4" font-size="12.2" text-anchor="end" fill="#0c0c0c" stroke="#0c0c0c" stroke-width="0.28">4000</text>
<line x1="278.50" y1="485.25" x2="282.00" y2="485.25" stroke="#060606" stroke-width="1.4"/>
<text font-family="Liberation Sans, sans-serif" x="274.7" y="490.4" font-size="12.2" text-anchor="end" fill="#0c0c0c" stroke="#0c0c0c" stroke-width="0.28">5000</text>
<line x1="278.50" y1="459.30" x2="282.00" y2="459.30" stroke="#060606" stroke-width="1.4"/>
<text font-family="Liberation Sans, sans-serif" x="274.7" y="464.5" font-size="12.2" text-anchor="end" fill="#0c0c0c" stroke="#0c0c0c" stroke-width="0.28">6000</text>
<line x1="282.00" y1="615.00" x2="282.00" y2="619.00" stroke="#060606" stroke-width="1.4"/>
<line x1="336.10" y1="615.00" x2="336.10" y2="619.00" stroke="#060606" stroke-width="1.4"/>
<line x1="390.20" y1="615.00" x2="390.20" y2="619.00" stroke="#060606" stroke-width="1.4"/>
<line x1="444.30" y1="615.00" x2="444.30" y2="619.00" stroke="#060606" stroke-width="1.4"/>
<text font-family="Liberation Sans, sans-serif" x="311.4" y="629.3" font-size="13.4" text-anchor="middle" fill="#0c0c0c" stroke="#0c0c0c" stroke-width="0.28">Stage 1</text>
<text font-family="Liberation Sans, sans-serif" x="365.6" y="629.3" font-size="13.4" text-anchor="middle" fill="#0c0c0c" stroke="#0c0c0c" stroke-width="0.28">Stage 2</text>
<text font-family="Liberation Sans, sans-serif" x="419.9" y="629.3" font-size="13.4" text-anchor="middle" fill="#0c0c0c" stroke="#0c0c0c" stroke-width="0.28">Stage 3</text>
<text font-family="Liberation Sans, sans-serif" transform="translate(240.4 529.5) rotate(-90)" font-size="13.2" text-anchor="middle" fill="#0c0c0c" stroke="#0c0c0c" stroke-width="0.28">MFI of CD71</text>
<text font-family="Liberation Sans, sans-serif" x="285.8" y="464.1" font-size="11.7" fill="#1a1a1a" stroke="#1a1a1a" stroke-width="0.28">*p=0.004</text>
<line x1="293.3" y1="466.80" x2="324.5" y2="466.80" stroke="#3a3a3a" stroke-width="1.1"/>
<text font-family="Liberation Sans, sans-serif" x="342.6" y="529.0" font-size="11.7" fill="#1a1a1a" stroke="#1a1a1a" stroke-width="0.28">*p=0.02</text>
<line x1="347.4" y1="531.00" x2="379.4" y2="531.00" stroke="#3a3a3a" stroke-width="1.1"/>
<text font-family="Liberation Sans, sans-serif" x="406.6" y="585.4" font-size="11.7" fill="#1a1a1a" stroke="#1a1a1a" stroke-width="0.28">N.S.</text>
<line x1="400.0" y1="588.00" x2="430.4" y2="588.00" stroke="#3a3a3a" stroke-width="1.1"/>
<rect x="529.4" y="441.1" width="7.4" height="8.4" fill="#060606"/>
<text font-family="Liberation Sans, sans-serif" x="539.0" y="450.5" font-size="13.5" fill="#0c0c0c" stroke="#0c0c0c" stroke-width="0.28">WT</text>
<rect x="568.05" y="442.05" width="5.9" height="7.3" fill="#fff" stroke="#060606" stroke-width="1.3"/>
<text font-family="Liberation Sans, sans-serif" x="576.4" y="450.5" font-size="13.5" fill="#0c0c0c" stroke="#0c0c0c" stroke-width="0.28">Hdac3 cKO</text>
<rect x="522.3" y="495.6" width="16.5" height="119.2" fill="#060606"/>
<line x1="530.5" y1="496.1" x2="530.5" y2="483.1" stroke="#060606" stroke-width="1.4"/>
<line x1="527.4" y1="483.1" x2="533.6" y2="483.1" stroke="#060606" stroke-width="1.4"/>
<rect x="539.10" y="554.08" width="14.00" height="60.72" fill="#fff" stroke="#060606" stroke-width="1.4"/>
<line x1="546.3" y1="553.9" x2="546.3" y2="546.9" stroke="#060606" stroke-width="1.4"/>
<line x1="543.2" y1="546.9" x2="549.4" y2="546.9" stroke="#060606" stroke-width="1.4"/>
<rect x="576.0" y="543.8" width="16.4" height="71.0" fill="#060606"/>
<line x1="584.2" y1="544.3" x2="584.2" y2="536.3" stroke="#060606" stroke-width="1.4"/>
<line x1="581.1" y1="536.3" x2="587.3" y2="536.3" stroke="#060606" stroke-width="1.4"/>
<rect x="592.70" y="569.11" width="14.00" height="45.69" fill="#fff" stroke="#060606" stroke-width="1.4"/>
<line x1="599.9" y1="568.9" x2="599.9" y2="565.0" stroke="#060606" stroke-width="1.4"/>
<line x1="596.8" y1="565.0" x2="603.0" y2="565.0" stroke="#060606" stroke-width="1.4"/>
<rect x="629.8" y="582.4" width="16.2" height="32.4" fill="#060606"/>
<line x1="637.9" y1="582.9" x2="637.9" y2="579.4" stroke="#060606" stroke-width="1.4"/>
<line x1="634.8" y1="579.4" x2="641.0" y2="579.4" stroke="#060606" stroke-width="1.4"/>
<rect x="646.30" y="584.66" width="14.50" height="30.14" fill="#fff" stroke="#060606" stroke-width="1.4"/>
<line x1="653.8" y1="584.5" x2="653.8" y2="579.6" stroke="#060606" stroke-width="1.4"/>
<line x1="650.6" y1="579.6" x2="656.9" y2="579.6" stroke="#060606" stroke-width="1.4"/>
<line x1="510.90" y1="458.60" x2="510.90" y2="615.50" stroke="#060606" stroke-width="1.6"/>
<line x1="506.70" y1="614.80" x2="673.60" y2="614.80" stroke="#060606" stroke-width="1.6"/>
<line x1="506.70" y1="614.80" x2="510.90" y2="614.80" stroke="#060606" stroke-width="1.4"/>
<text font-family="Liberation Sans, sans-serif" x="501.1" y="619.9" font-size="12.1" text-anchor="end" fill="#0c0c0c" stroke="#0c0c0c" stroke-width="0.28">0</text>
<line x1="506.70" y1="588.88" x2="510.90" y2="588.88" stroke="#060606" stroke-width="1.4"/>
<text font-family="Liberation Sans, sans-serif" x="501.1" y="594.0" font-size="12.1" text-anchor="end" fill="#0c0c0c" stroke="#0c0c0c" stroke-width="0.28">5000</text>
<line x1="506.70" y1="562.97" x2="510.90" y2="562.97" stroke="#060606" stroke-width="1.4"/>
<text font-family="Liberation Sans, sans-serif" x="501.1" y="568.1" font-size="12.1" text-anchor="end" fill="#0c0c0c" stroke="#0c0c0c" stroke-width="0.28">10000</text>
<line x1="506.70" y1="537.05" x2="510.90" y2="537.05" stroke="#060606" stroke-width="1.4"/>
<text font-family="Liberation Sans, sans-serif" x="501.1" y="542.2" font-size="12.1" text-anchor="end" fill="#0c0c0c" stroke="#0c0c0c" stroke-width="0.28">15000</text>
<line x1="506.70" y1="511.13" x2="510.90" y2="511.13" stroke="#060606" stroke-width="1.4"/>
<text font-family="Liberation Sans, sans-serif" x="501.1" y="516.3" font-size="12.1" text-anchor="end" fill="#0c0c0c" stroke="#0c0c0c" stroke-width="0.28">20000</text>
<line x1="506.70" y1="485.22" x2="510.90" y2="485.22" stroke="#060606" stroke-width="1.4"/>
<text font-family="Liberation Sans, sans-serif" x="501.1" y="490.3" font-size="12.1" text-anchor="end" fill="#0c0c0c" stroke="#0c0c0c" stroke-width="0.28">25000</text>
<line x1="506.70" y1="459.30" x2="510.90" y2="459.30" stroke="#060606" stroke-width="1.4"/>
<text font-family="Liberation Sans, sans-serif" x="501.1" y="464.4" font-size="12.1" text-anchor="end" fill="#0c0c0c" stroke="#0c0c0c" stroke-width="0.28">30000</text>
<line x1="510.90" y1="614.80" x2="510.90" y2="618.80" stroke="#060606" stroke-width="1.4"/>
<line x1="564.90" y1="614.80" x2="564.90" y2="618.80" stroke="#060606" stroke-width="1.4"/>
<line x1="618.90" y1="614.80" x2="618.90" y2="618.80" stroke="#060606" stroke-width="1.4"/>
<line x1="672.90" y1="614.80" x2="672.90" y2="618.80" stroke="#060606" stroke-width="1.4"/>
<text font-family="Liberation Sans, sans-serif" x="544.0" y="629.2" font-size="13.4" text-anchor="middle" fill="#0c0c0c" stroke="#0c0c0c" stroke-width="0.28">Stage 1</text>
<text font-family="Liberation Sans, sans-serif" x="597.0" y="629.2" font-size="13.4" text-anchor="middle" fill="#0c0c0c" stroke="#0c0c0c" stroke-width="0.28">Stage 2</text>
<text font-family="Liberation Sans, sans-serif" x="651.2" y="629.2" font-size="13.4" text-anchor="middle" fill="#0c0c0c" stroke="#0c0c0c" stroke-width="0.28">Stage 3</text>
<text font-family="Liberation Sans, sans-serif" transform="translate(462.0 529.0) rotate(-90)" font-size="13.2" text-anchor="middle" fill="#0c0c0c" stroke="#0c0c0c" stroke-width="0.28">MFI of CD98</text>
<text font-family="Liberation Sans, sans-serif" x="513.8" y="471.4" font-size="11.7" fill="#1a1a1a" stroke="#1a1a1a" stroke-width="0.28">*p=0.003</text>
<line x1="523.0" y1="473.60" x2="554.6" y2="473.60" stroke="#3a3a3a" stroke-width="1.1"/>
<text font-family="Liberation Sans, sans-serif" x="568.4" y="529.2" font-size="11.7" fill="#1a1a1a" stroke="#1a1a1a" stroke-width="0.28">*p=0.01</text>
<line x1="573.0" y1="531.40" x2="609.0" y2="531.40" stroke="#3a3a3a" stroke-width="1.1"/>
<text font-family="Liberation Sans, sans-serif" x="638.4" y="564.4" font-size="11.7" fill="#1a1a1a" stroke="#1a1a1a" stroke-width="0.28">N.S.</text>
<line x1="629.4" y1="566.80" x2="664.0" y2="566.80" stroke="#3a3a3a" stroke-width="1.1"/>
</svg>
</body>
</html>
